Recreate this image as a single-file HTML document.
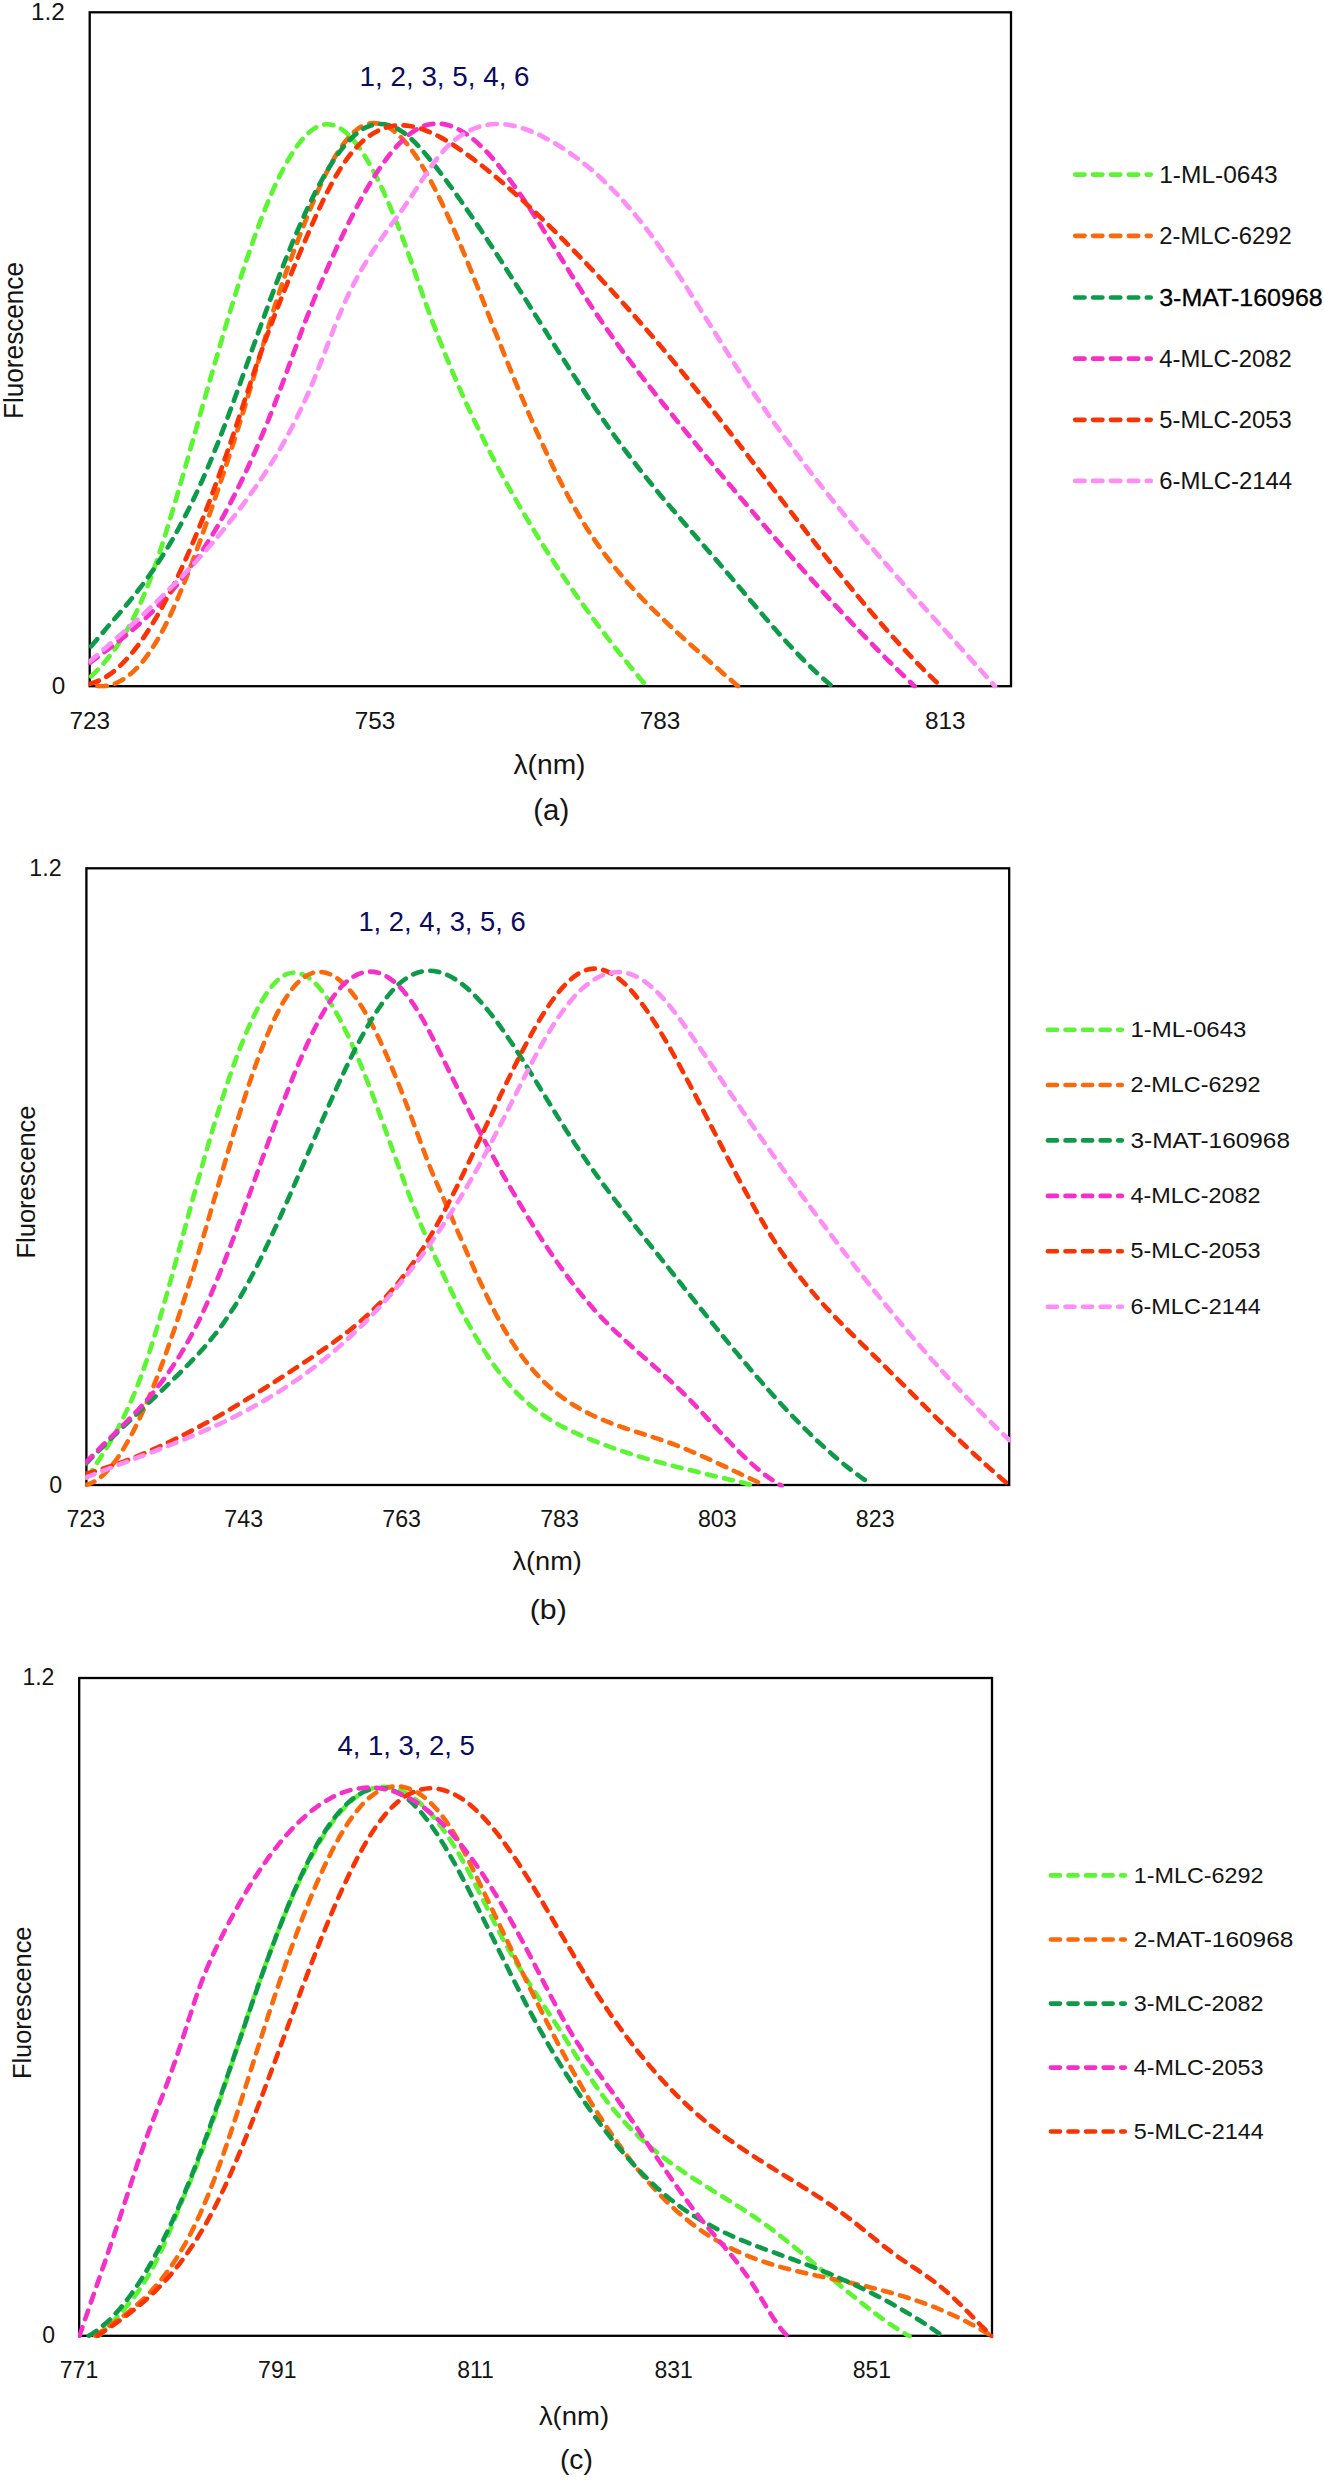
<!DOCTYPE html>
<html lang="en"><head><meta charset="utf-8"><title>Fluorescence spectra</title>
<style>
html,body{margin:0;padding:0;background:#fff;}
svg{display:block;font-family:'Liberation Sans', 'DejaVu Sans', sans-serif;}
</style></head><body>
<svg width="1324" height="2480" viewBox="0 0 1324 2480">
<rect width="1324" height="2480" fill="#fff"/>
<clipPath id="clipA"><rect x="88.5" y="9.9" width="923.7" height="678.7"/></clipPath>
<rect x="89.7" y="12.3" width="921.3" height="673.9" fill="none" stroke="#000" stroke-width="2.3"/>
<g clip-path="url(#clipA)" fill="none" stroke-width="4.7" stroke-linecap="round" stroke-linejoin="round" stroke-dasharray="9.3 8.6">
<path stroke="#5CF531" d="M91.2,676.3C93.7,674.0 96.1,671.6 98.5,669.0C100.8,666.6 103.1,664.0 105.4,661.3C107.5,658.8 109.7,656.1 111.9,653.3C113.9,650.6 115.9,647.8 117.9,644.8C119.7,642.1 121.6,639.1 123.5,636.1C125.2,633.2 126.9,630.2 128.7,627.1C130.3,624.2 131.9,621.1 133.5,617.9C135.0,615.0 136.5,611.9 138.0,608.6C139.4,605.6 140.8,602.5 142.2,599.2C143.5,596.1 144.8,593.0 146.2,589.7C147.4,586.6 148.6,583.4 149.9,580.1C151.1,577.0 152.2,573.8 153.4,570.5C154.5,567.3 155.6,564.1 156.8,560.8C157.8,557.7 158.9,554.5 160.0,551.2C161.0,548.0 162.1,544.8 163.1,541.6C164.1,538.4 165.1,535.2 166.2,531.9C167.1,528.7 168.1,525.5 169.1,522.2C170.1,519.1 171.1,515.8 172.0,512.6C173.0,509.4 174.0,506.2 174.9,502.9C175.9,499.7 176.8,496.5 177.7,493.3C178.7,490.1 179.6,486.9 180.5,483.6C181.5,480.4 182.4,477.2 183.3,474.0C184.2,470.8 185.1,467.6 186.1,464.4C187.0,461.1 187.9,457.9 188.8,454.7C189.7,451.5 190.6,448.3 191.5,445.1C192.4,441.9 193.4,438.7 194.3,435.5C195.2,432.3 196.1,429.0 197.0,425.8C197.9,422.6 198.8,419.4 199.7,416.2C200.6,413.0 201.5,409.8 202.4,406.6C203.3,403.4 204.3,400.2 205.2,397.0C206.1,393.8 207.0,390.6 207.9,387.4C208.8,384.2 209.7,381.0 210.6,377.8C211.6,374.6 212.5,371.4 213.4,368.2C214.3,365.0 215.3,361.8 216.2,358.6C217.1,355.4 218.0,352.2 219.0,349.1C219.9,345.9 220.8,342.7 221.8,339.5C222.7,336.3 223.6,333.1 224.6,330.0C225.5,326.8 226.5,323.6 227.4,320.4C228.4,317.2 229.4,314.1 230.3,310.9C231.3,307.7 232.3,304.6 233.2,301.4C234.2,298.2 235.2,295.1 236.2,291.9C237.2,288.7 238.2,285.6 239.2,282.5C240.2,279.3 241.2,276.1 242.2,273.0C243.3,269.9 244.3,266.7 245.3,263.6C246.4,260.5 247.4,257.3 248.5,254.2C249.6,251.1 250.6,248.0 251.7,244.9C252.8,241.8 253.9,238.7 255.0,235.6C256.2,232.5 257.3,229.4 258.4,226.3C259.6,223.2 260.7,220.2 261.9,217.1C263.1,214.0 264.3,211.0 265.5,208.0C266.8,204.9 268.0,201.9 269.2,198.9C270.5,195.9 271.8,192.9 273.1,189.9C274.5,186.9 275.8,183.9 277.2,181.1C278.6,178.1 280.0,175.1 281.5,172.3C283.0,169.4 284.5,166.5 286.0,163.8C287.6,160.9 289.2,158.1 290.8,155.5C292.6,152.6 294.3,149.9 296.0,147.5C297.9,144.7 299.9,142.2 301.8,139.9C303.9,137.4 306.1,135.1 308.2,133.2C310.7,130.9 313.1,129.1 315.6,127.7C318.5,126.0 321.4,124.9 324.3,124.5C327.6,124.0 330.8,124.3 334.1,125.4C337.3,126.5 340.5,128.2 343.6,130.7C346.3,132.7 348.9,135.2 351.6,138.1C353.8,140.6 356.0,143.3 358.3,146.4C360.3,149.1 362.2,152.0 364.2,155.1C366.0,157.9 367.8,160.9 369.5,164.0C371.2,166.9 372.8,170.0 374.5,173.1C376.0,176.1 377.6,179.2 379.1,182.3C380.6,185.3 382.0,188.4 383.5,191.6C384.9,194.6 386.2,197.7 387.6,200.9C389.0,204.0 390.3,207.1 391.6,210.3C392.9,213.4 394.2,216.5 395.5,219.7C396.7,222.8 398.0,225.9 399.2,229.1C400.4,232.2 401.6,235.4 402.8,238.6C404.0,241.7 405.2,244.9 406.4,248.1C407.5,251.2 408.6,254.4 409.8,257.6C410.9,260.8 412.0,264.0 413.1,267.2C414.2,270.3 415.3,273.5 416.4,276.7C417.5,279.8 418.6,283.0 419.7,286.1C420.8,289.3 421.9,292.4 422.9,295.5C424.1,298.6 425.2,301.7 426.3,304.8C427.4,307.9 428.5,311.0 429.7,314.1C430.8,317.2 432.0,320.3 433.1,323.4C434.3,326.5 435.5,329.6 436.7,332.6C437.9,335.8 439.1,338.8 440.3,341.9C441.5,345.0 442.7,348.0 443.9,351.1C445.2,354.2 446.4,357.2 447.7,360.3C448.9,363.3 450.2,366.4 451.5,369.4C452.7,372.5 454.0,375.5 455.3,378.5C456.6,381.6 458.0,384.6 459.3,387.6C460.6,390.7 462.0,393.7 463.3,396.7C464.7,399.7 466.0,402.7 467.4,405.7C468.8,408.7 470.2,411.7 471.6,414.7C473.0,417.7 474.4,420.7 475.8,423.6C477.3,426.6 478.7,429.6 480.1,432.5C481.6,435.5 483.1,438.5 484.5,441.4C486.0,444.4 487.5,447.4 489.0,450.3C490.5,453.2 492.1,456.2 493.6,459.1C495.1,462.0 496.7,465.0 498.2,467.9C499.8,470.8 501.3,473.7 502.9,476.6C504.5,479.5 506.1,482.4 507.7,485.3C509.3,488.2 510.9,491.1 512.6,493.9C514.2,496.9 515.8,499.7 517.5,502.6C519.1,505.5 520.8,508.3 522.5,511.2C524.1,514.0 525.8,516.9 527.5,519.7C529.2,522.6 530.9,525.4 532.6,528.2C534.4,531.1 536.1,533.9 537.8,536.7C539.6,539.6 541.3,542.4 543.1,545.2C544.8,548.0 546.6,550.8 548.4,553.5C550.2,556.4 552.0,559.1 553.8,561.9C555.6,564.7 557.4,567.5 559.2,570.2C561.1,573.0 562.9,575.7 564.8,578.5C566.6,581.2 568.5,584.0 570.4,586.7C572.2,589.4 574.1,592.1 576.0,594.8C577.9,597.6 579.8,600.3 581.7,603.0C583.7,605.7 585.6,608.4 587.6,611.0C589.5,613.7 591.5,616.4 593.4,619.1C595.4,621.7 597.4,624.4 599.4,627.0C601.4,629.7 603.4,632.3 605.4,635.0C607.4,637.6 609.4,640.2 611.4,642.8C613.5,645.5 615.5,648.1 617.6,650.7C619.6,653.3 621.7,655.9 623.8,658.4C625.9,661.0 628.0,663.6 630.0,666.2C632.1,668.8 634.3,671.3 636.4,673.9C638.5,676.4 640.6,679.0 642.7,681.5C644.1,683.1 645.4,684.7 646.8,686.3"/>
<path stroke="#FA6A0A" d="M97.5,686.2C100.8,686.5 104.1,686.4 107.5,685.7C110.7,685.1 114.0,684.1 117.3,682.6C120.3,681.2 123.4,679.4 126.4,677.2C129.1,675.3 131.8,673.0 134.5,670.4C136.9,668.1 139.3,665.5 141.7,662.7C143.8,660.1 146.0,657.3 148.1,654.3C150.1,651.6 152.0,648.7 153.9,645.6C155.7,642.8 157.5,639.8 159.3,636.7C160.9,633.8 162.5,630.8 164.2,627.6C165.7,624.6 167.2,621.5 168.8,618.4C170.2,615.4 171.7,612.3 173.1,609.1C174.5,606.0 175.9,602.9 177.2,599.7C178.5,596.7 179.9,593.5 181.2,590.3C182.4,587.2 183.7,584.1 185.0,580.9C186.2,577.8 187.5,574.7 188.7,571.5C189.9,568.4 191.1,565.2 192.3,562.0C193.5,558.9 194.7,555.8 195.8,552.6C197.0,549.4 198.1,546.3 199.3,543.1C200.4,540.0 201.6,536.8 202.7,533.6C203.8,530.5 204.9,527.3 206.1,524.1C207.2,521.0 208.3,517.8 209.4,514.7C210.5,511.5 211.6,508.4 212.7,505.2C213.8,502.0 214.8,498.9 215.9,495.7C217.0,492.5 218.1,489.3 219.2,486.2C220.2,483.0 221.3,479.8 222.4,476.6C223.4,473.5 224.5,470.3 225.5,467.1C226.6,463.9 227.6,460.8 228.7,457.5C229.7,454.4 230.7,451.2 231.8,448.0C232.8,444.8 233.8,441.6 234.9,438.4C235.9,435.2 236.9,432.0 237.9,428.8C238.9,425.7 239.9,422.5 240.9,419.2C241.9,416.1 242.9,412.9 243.9,409.6C244.9,406.4 245.8,403.2 246.8,400.0C247.8,396.8 248.8,393.6 249.7,390.4C250.7,387.2 251.7,384.0 252.6,380.8C253.6,377.6 254.5,374.3 255.5,371.1C256.4,367.9 257.3,364.7 258.3,361.5C259.2,358.3 260.2,355.1 261.1,351.9C262.0,348.7 263.0,345.5 263.9,342.3C264.8,339.1 265.8,335.9 266.7,332.8C267.7,329.6 268.6,326.4 269.6,323.3C270.5,320.1 271.5,316.9 272.5,313.8C273.4,310.6 274.4,307.4 275.4,304.3C276.4,301.2 277.4,298.0 278.4,294.9C279.5,291.8 280.5,288.7 281.5,285.6C282.6,282.4 283.6,279.3 284.7,276.3C285.8,273.1 286.9,270.0 288.0,267.0C289.1,263.8 290.3,260.7 291.4,257.7C292.5,254.6 293.7,251.5 294.8,248.4C296.0,245.3 297.2,242.2 298.4,239.1C299.6,236.0 300.7,232.9 301.9,229.9C303.1,226.8 304.4,223.7 305.6,220.6C306.8,217.5 308.0,214.5 309.2,211.4C310.5,208.3 311.7,205.3 313.0,202.3C314.3,199.2 315.6,196.2 316.9,193.3C318.2,190.2 319.5,187.2 320.9,184.3C322.3,181.3 323.6,178.4 325.0,175.5C326.5,172.5 328.0,169.6 329.4,166.9C331.0,163.9 332.5,161.1 334.1,158.4C335.8,155.5 337.5,152.8 339.1,150.2C340.9,147.4 342.8,144.8 344.6,142.5C346.6,139.8 348.6,137.4 350.6,135.3C352.9,132.9 355.2,130.8 357.5,129.1C360.2,127.1 362.9,125.7 365.6,124.7C368.7,123.5 371.8,123.0 375.0,123.2C378.3,123.3 381.6,124.1 385.0,125.6C388.0,126.9 391.1,128.8 394.1,131.2C396.8,133.2 399.4,135.6 402.0,138.4C404.3,140.8 406.6,143.5 408.9,146.4C411.0,149.0 413.0,151.9 415.1,154.9C417.0,157.6 418.9,160.5 420.8,163.6C422.5,166.4 424.3,169.3 426.0,172.4C427.7,175.3 429.3,178.3 431.0,181.4C432.5,184.3 434.1,187.4 435.7,190.5C437.2,193.5 438.7,196.5 440.2,199.6C441.7,202.6 443.1,205.7 444.6,208.8C446.0,211.8 447.4,214.9 448.8,218.0C450.1,221.0 451.5,224.1 452.9,227.3C454.2,230.3 455.6,233.4 456.9,236.5C458.2,239.6 459.5,242.7 460.8,245.8C462.1,248.9 463.4,252.0 464.7,255.1C466.0,258.2 467.2,261.3 468.5,264.4C469.8,267.5 471.0,270.6 472.3,273.7C473.5,276.8 474.8,279.9 476.0,283.1C477.3,286.2 478.5,289.3 479.7,292.4C481.0,295.5 482.2,298.6 483.4,301.7C484.6,304.8 485.9,307.9 487.1,311.0C488.3,314.1 489.5,317.2 490.8,320.3C492.0,323.4 493.2,326.5 494.4,329.6C495.6,332.7 496.9,335.8 498.1,338.9C499.3,342.0 500.6,345.1 501.8,348.2C503.0,351.3 504.3,354.3 505.5,357.4C506.7,360.5 508.0,363.6 509.2,366.6C510.5,369.7 511.7,372.8 513.0,375.9C514.2,379.0 515.5,382.0 516.8,385.1C518.0,388.2 519.3,391.2 520.6,394.3C521.9,397.3 523.2,400.4 524.5,403.4C525.8,406.5 527.1,409.5 528.4,412.6C529.7,415.6 531.0,418.7 532.3,421.7C533.7,424.7 535.0,427.8 536.3,430.8C537.7,433.8 539.1,436.8 540.4,439.8C541.8,442.8 543.2,445.8 544.6,448.8C546.0,451.8 547.4,454.8 548.8,457.8C550.2,460.8 551.6,463.8 553.0,466.7C554.5,469.7 556.0,472.7 557.4,475.6C558.9,478.6 560.4,481.5 561.9,484.4C563.4,487.4 564.9,490.3 566.5,493.1C568.0,496.1 569.6,499.0 571.2,501.8C572.8,504.7 574.4,507.6 576.0,510.3C577.7,513.2 579.4,516.1 581.0,518.8C582.8,521.7 584.5,524.5 586.2,527.2C588.0,530.0 589.8,532.8 591.6,535.4C593.4,538.2 595.2,540.9 597.1,543.6C599.0,546.3 600.9,549.0 602.8,551.6C604.7,554.3 606.7,556.9 608.7,559.5C610.7,562.2 612.7,564.7 614.7,567.3C616.8,569.9 618.9,572.4 621.0,574.9C623.1,577.4 625.3,579.9 627.4,582.4C629.6,584.9 631.8,587.3 634.0,589.7C636.3,592.2 638.5,594.6 640.8,597.0C643.1,599.4 645.4,601.8 647.7,604.1C650.0,606.5 652.3,608.8 654.7,611.1C657.1,613.4 659.4,615.7 661.8,618.0C664.2,620.3 666.6,622.6 669.0,624.9C671.4,627.2 673.9,629.4 676.3,631.7C678.7,633.9 681.2,636.2 683.6,638.4C686.1,640.6 688.6,642.9 691.0,645.1C693.5,647.3 696.0,649.5 698.5,651.7C701.0,653.9 703.5,656.1 706.0,658.3C708.5,660.5 711.0,662.7 713.5,664.9C716.0,667.1 718.5,669.3 721.0,671.5C723.5,673.7 726.0,675.8 728.6,678.0C731.1,680.2 733.6,682.4 736.1,684.6C736.7,685.1 737.4,685.7 738.0,686.2"/>
<path stroke="#0D9B49" d="M91.2,646.3C93.4,643.7 95.5,641.1 97.6,638.6C99.8,636.1 101.9,633.6 104.1,631.1C106.2,628.5 108.4,626.0 110.6,623.5C112.8,621.0 114.9,618.5 117.1,615.9C119.3,613.4 121.5,610.8 123.6,608.2C125.8,605.7 127.9,603.1 130.1,600.5C132.2,597.9 134.3,595.3 136.4,592.6C138.5,590.0 140.5,587.3 142.6,584.6C144.6,581.9 146.6,579.2 148.6,576.4C150.6,573.7 152.5,571.0 154.5,568.1C156.3,565.4 158.2,562.5 160.1,559.6C161.9,556.8 163.7,554.0 165.5,551.0C167.3,548.2 169.0,545.3 170.8,542.3C172.5,539.4 174.2,536.5 175.8,533.5C177.5,530.5 179.1,527.6 180.7,524.5C182.3,521.6 183.9,518.6 185.4,515.5C187.0,512.6 188.5,509.5 190.0,506.5C191.5,503.5 193.0,500.4 194.4,497.3C195.9,494.3 197.3,491.2 198.7,488.1C200.1,485.1 201.5,482.0 202.9,478.9C204.2,475.8 205.6,472.7 206.9,469.6C208.3,466.5 209.6,463.4 210.9,460.2C212.2,457.2 213.5,454.0 214.7,450.9C216.0,447.8 217.2,444.6 218.5,441.5C219.7,438.4 220.9,435.2 222.1,432.1C223.3,428.9 224.5,425.8 225.7,422.6C226.9,419.5 228.1,416.4 229.2,413.2C230.4,410.1 231.6,406.9 232.7,403.8C233.9,400.6 235.0,397.5 236.2,394.3C237.3,391.2 238.4,388.0 239.6,384.9C240.7,381.7 241.8,378.6 242.9,375.4C244.1,372.3 245.2,369.2 246.3,366.0C247.4,362.9 248.6,359.7 249.7,356.6C250.8,353.4 251.9,350.3 253.0,347.2C254.2,344.0 255.3,340.9 256.4,337.8C257.5,334.6 258.6,331.5 259.8,328.4C260.9,325.2 262.0,322.1 263.2,319.0C264.3,315.9 265.4,312.8 266.6,309.6C267.7,306.5 268.9,303.4 270.0,300.3C271.2,297.2 272.3,294.1 273.5,291.0C274.7,287.9 275.8,284.8 277.0,281.7C278.2,278.6 279.4,275.5 280.6,272.4C281.8,269.3 283.0,266.2 284.2,263.2C285.4,260.1 286.6,257.0 287.8,254.0C289.1,250.9 290.3,247.8 291.6,244.8C292.8,241.7 294.1,238.7 295.4,235.7C296.7,232.6 298.0,229.6 299.3,226.6C300.6,223.5 301.9,220.5 303.3,217.6C304.6,214.5 306.0,211.6 307.4,208.6C308.8,205.6 310.2,202.7 311.6,199.8C313.1,196.8 314.5,193.8 316.0,191.0C317.5,188.0 319.0,185.1 320.6,182.3C322.2,179.4 323.7,176.6 325.3,173.8C327.0,170.9 328.7,168.1 330.3,165.5C332.1,162.7 333.9,159.9 335.6,157.4C337.5,154.6 339.4,152.0 341.3,149.6C343.4,147.0 345.4,144.5 347.4,142.3C349.7,139.8 351.9,137.5 354.1,135.6C356.6,133.3 359.1,131.4 361.6,129.8C364.4,128.0 367.2,126.7 370.0,125.7C373.2,124.6 376.3,124.1 379.5,124.0C382.8,123.9 386.2,124.4 389.5,125.4C392.7,126.4 395.9,127.8 399.1,129.7C402.0,131.4 404.8,133.4 407.7,135.8C410.3,137.9 412.8,140.3 415.4,142.9C417.7,145.3 420.1,147.8 422.4,150.5C424.6,153.0 426.8,155.6 429.0,158.3C431.1,160.9 433.2,163.6 435.3,166.3C437.4,168.9 439.4,171.6 441.5,174.3C443.5,176.9 445.5,179.6 447.5,182.3C449.5,185.0 451.5,187.7 453.5,190.5C455.4,193.2 457.4,195.9 459.3,198.7C461.3,201.4 463.2,204.1 465.1,206.9C467.0,209.6 468.9,212.4 470.8,215.2C472.7,217.9 474.6,220.7 476.5,223.5C478.3,226.3 480.2,229.0 482.0,231.8C483.9,234.6 485.7,237.4 487.6,240.2C489.4,243.0 491.3,245.8 493.1,248.6C494.9,251.4 496.7,254.2 498.5,257.0C500.4,259.8 502.2,262.6 504.0,265.5C505.8,268.3 507.6,271.1 509.4,273.9C511.2,276.7 513.0,279.5 514.7,282.4C516.5,285.2 518.3,288.0 520.1,290.8C521.9,293.6 523.7,296.5 525.4,299.3C527.2,302.1 529.0,304.9 530.8,307.7C532.5,310.6 534.3,313.4 536.1,316.2C537.9,319.0 539.6,321.9 541.4,324.7C543.2,327.5 545.0,330.3 546.8,333.1C548.5,336.0 550.3,338.8 552.1,341.6C553.9,344.4 555.6,347.2 557.4,350.0C559.2,352.8 561.0,355.6 562.8,358.4C564.6,361.2 566.4,364.0 568.2,366.8C570.0,369.6 571.8,372.4 573.6,375.2C575.4,378.0 577.2,380.8 579.0,383.6C580.8,386.4 582.7,389.1 584.5,391.9C586.3,394.7 588.1,397.5 590.0,400.2C591.8,403.0 593.7,405.7 595.5,408.5C597.4,411.2 599.3,414.0 601.1,416.7C603.0,419.5 604.9,422.2 606.8,424.9C608.7,427.6 610.6,430.3 612.5,433.0C614.4,435.7 616.4,438.4 618.3,441.1C620.3,443.8 622.2,446.5 624.2,449.1C626.2,451.8 628.1,454.4 630.1,457.0C632.1,459.7 634.2,462.3 636.2,464.9C638.2,467.5 640.3,470.2 642.3,472.7C644.4,475.3 646.4,477.9 648.5,480.5C650.6,483.1 652.7,485.7 654.8,488.2C656.9,490.8 659.0,493.4 661.1,495.9C663.3,498.5 665.4,501.0 667.5,503.5C669.7,506.1 671.8,508.6 674.0,511.1C676.1,513.7 678.3,516.2 680.5,518.7C682.6,521.2 684.8,523.7 687.0,526.2C689.2,528.8 691.3,531.3 693.5,533.8C695.7,536.3 697.9,538.8 700.1,541.3C702.3,543.9 704.5,546.4 706.6,548.9C708.8,551.4 711.0,553.9 713.2,556.5C715.4,559.0 717.6,561.5 719.7,564.1C721.9,566.6 724.1,569.1 726.2,571.7C728.4,574.2 730.6,576.8 732.7,579.3C734.9,581.9 737.0,584.4 739.2,587.0C741.3,589.5 743.5,592.1 745.6,594.7C747.7,597.2 749.9,599.8 752.0,602.3C754.2,604.8 756.3,607.4 758.5,609.9C760.6,612.5 762.8,615.0 765.0,617.5C767.1,620.0 769.3,622.5 771.5,625.0C773.7,627.6 775.8,630.0 778.0,632.5C780.2,635.0 782.4,637.5 784.7,639.9C786.9,642.4 789.1,644.8 791.4,647.2C793.6,649.7 795.9,652.1 798.2,654.5C800.5,656.9 802.8,659.2 805.1,661.5C807.5,663.9 809.8,666.2 812.2,668.5C814.6,670.8 817.0,673.0 819.4,675.2C821.9,677.4 824.3,679.6 826.8,681.7C828.6,683.3 830.4,684.8 832.2,686.2"/>
<path stroke="#F72FC9" d="M90.0,662.5C92.7,660.6 95.4,658.6 98.1,656.6C100.8,654.7 103.5,652.7 106.2,650.7C108.9,648.7 111.6,646.7 114.2,644.6C116.9,642.6 119.5,640.5 122.2,638.4C124.8,636.3 127.4,634.2 130.0,632.0C132.5,629.9 135.1,627.7 137.6,625.4C140.1,623.2 142.6,620.9 145.1,618.6C147.6,616.3 150.0,614.0 152.4,611.6C154.8,609.3 157.2,606.9 159.6,604.4C161.9,602.0 164.2,599.5 166.5,597.0C168.7,594.5 171.0,592.0 173.2,589.3C175.4,586.8 177.5,584.2 179.7,581.5C181.8,578.9 183.9,576.3 186.0,573.5C188.0,570.9 190.1,568.2 192.1,565.4C194.0,562.7 196.0,559.9 198.0,557.1C199.9,554.4 201.8,551.5 203.6,548.7C205.5,545.9 207.3,543.0 209.1,540.1C210.9,537.3 212.7,534.4 214.5,531.4C216.2,528.6 217.9,525.6 219.6,522.7C221.2,519.8 222.9,516.8 224.6,513.8C226.2,510.9 227.8,507.9 229.4,504.9C230.9,501.9 232.5,498.9 234.1,495.9C235.6,492.9 237.1,489.9 238.6,486.8C240.1,483.8 241.6,480.8 243.0,477.7C244.5,474.7 245.9,471.6 247.4,468.5C248.8,465.5 250.2,462.5 251.6,459.3C252.9,456.3 254.3,453.2 255.7,450.1C257.0,447.0 258.4,443.9 259.7,440.8C261.0,437.7 262.3,434.6 263.6,431.5C264.9,428.4 266.2,425.3 267.5,422.2C268.7,419.1 270.0,415.9 271.2,412.8C272.5,409.7 273.7,406.5 274.9,403.4C276.1,400.3 277.3,397.1 278.5,394.0C279.7,390.8 280.9,387.7 282.1,384.5C283.3,381.4 284.4,378.2 285.6,375.1C286.7,371.9 287.9,368.8 289.0,365.6C290.2,362.5 291.3,359.4 292.4,356.2C293.6,353.1 294.7,350.0 295.9,346.8C297.0,343.7 298.1,340.6 299.3,337.5C300.4,334.4 301.6,331.3 302.7,328.2C303.9,325.1 305.1,322.0 306.3,318.9C307.5,315.8 308.7,312.8 309.9,309.8C311.1,306.7 312.3,303.6 313.6,300.6C314.8,297.5 316.1,294.5 317.4,291.5C318.7,288.4 320.0,285.4 321.3,282.4C322.6,279.3 323.9,276.3 325.2,273.3C326.6,270.2 327.9,267.2 329.2,264.2C330.6,261.2 332.0,258.2 333.3,255.2C334.7,252.1 336.1,249.1 337.5,246.2C338.9,243.1 340.3,240.2 341.7,237.2C343.1,234.2 344.6,231.2 346.0,228.3C347.4,225.3 348.9,222.3 350.4,219.4C351.9,216.5 353.4,213.5 354.9,210.7C356.4,207.7 358.0,204.8 359.5,202.0C361.1,199.0 362.7,196.2 364.3,193.4C365.9,190.5 367.6,187.6 369.2,184.9C370.9,182.0 372.6,179.2 374.3,176.5C376.1,173.7 377.9,171.0 379.7,168.3C381.5,165.6 383.4,162.9 385.3,160.4C387.2,157.7 389.2,155.1 391.2,152.7C393.3,150.1 395.4,147.7 397.5,145.4C399.8,143.0 402.0,140.7 404.3,138.7C406.8,136.4 409.2,134.4 411.7,132.6C414.4,130.7 417.1,129.1 419.8,127.7C422.8,126.3 425.8,125.2 428.8,124.5C432.1,123.8 435.3,123.5 438.6,123.6C441.9,123.8 445.2,124.3 448.6,125.3C451.8,126.3 455.0,127.6 458.2,129.2C461.1,130.7 464.1,132.5 467.1,134.6C469.8,136.5 472.5,138.6 475.3,141.0C477.8,143.1 480.3,145.5 482.9,148.0C485.2,150.3 487.6,152.8 490.0,155.4C492.2,157.9 494.5,160.5 496.7,163.1C498.8,165.7 501.0,168.3 503.1,171.1C505.2,173.7 507.2,176.4 509.3,179.2C511.3,181.8 513.3,184.6 515.3,187.4C517.2,190.1 519.1,192.8 521.1,195.6C523.0,198.4 524.9,201.2 526.7,204.0C528.6,206.8 530.4,209.6 532.3,212.4C534.1,215.2 535.9,218.0 537.8,220.9C539.6,223.7 541.4,226.5 543.1,229.4C544.9,232.2 546.7,235.0 548.5,237.9C550.3,240.7 552.0,243.5 553.8,246.4C555.5,249.2 557.3,252.1 559.1,254.9C560.8,257.7 562.6,260.6 564.3,263.4C566.1,266.2 567.8,269.1 569.6,271.9C571.3,274.7 573.1,277.6 574.9,280.4C576.6,283.2 578.4,286.0 580.2,288.8C581.9,291.6 583.7,294.4 585.5,297.2C587.3,300.0 589.1,302.8 590.9,305.5C592.7,308.3 594.6,311.1 596.4,313.8C598.2,316.6 600.1,319.3 602.0,322.0C603.8,324.8 605.7,327.5 607.6,330.2C609.5,332.9 611.4,335.6 613.3,338.3C615.3,341.0 617.2,343.7 619.1,346.4C621.1,349.1 623.0,351.7 625.0,354.4C627.0,357.1 629.0,359.7 631.0,362.4C633.0,365.0 635.0,367.7 637.0,370.3C639.0,372.9 641.0,375.6 643.0,378.2C645.1,380.8 647.1,383.4 649.1,386.0C651.2,388.7 653.3,391.3 655.3,393.9C657.4,396.5 659.5,399.1 661.5,401.7C663.6,404.3 665.7,406.9 667.8,409.4C669.9,412.0 672.0,414.6 674.1,417.2C676.2,419.8 678.2,422.4 680.3,425.0C682.5,427.5 684.6,430.1 686.7,432.7C688.8,435.3 690.9,437.9 693.0,440.4C695.1,443.0 697.2,445.6 699.3,448.2C701.4,450.7 703.5,453.3 705.7,455.9C707.8,458.5 709.9,461.0 712.0,463.6C714.1,466.2 716.3,468.7 718.4,471.3C720.5,473.8 722.7,476.4 724.8,479.0C726.9,481.5 729.1,484.1 731.2,486.6C733.3,489.2 735.5,491.7 737.6,494.3C739.8,496.8 741.9,499.4 744.1,501.9C746.2,504.4 748.4,507.0 750.5,509.5C752.7,512.0 754.8,514.6 757.0,517.1C759.2,519.6 761.3,522.2 763.5,524.7C765.7,527.2 767.8,529.7 770.0,532.3C772.2,534.8 774.4,537.3 776.5,539.8C778.7,542.3 780.9,544.8 783.1,547.3C785.3,549.8 787.5,552.3 789.7,554.8C791.9,557.3 794.1,559.8 796.3,562.3C798.5,564.8 800.7,567.3 802.9,569.8C805.1,572.2 807.4,574.7 809.6,577.2C811.8,579.7 814.0,582.1 816.3,584.6C818.5,587.1 820.7,589.5 823.0,592.0C825.2,594.4 827.5,596.9 829.7,599.3C832.0,601.8 834.2,604.2 836.5,606.7C838.8,609.1 841.0,611.5 843.3,614.0C845.6,616.4 847.9,618.8 850.1,621.2C852.4,623.7 854.7,626.1 857.0,628.5C859.3,630.9 861.6,633.3 863.9,635.7C866.2,638.1 868.5,640.5 870.8,642.8C873.2,645.2 875.5,647.6 877.8,650.0C880.1,652.4 882.5,654.7 884.8,657.1C887.2,659.4 889.5,661.8 891.9,664.1C894.2,666.5 896.6,668.8 898.9,671.1C901.3,673.5 903.7,675.8 906.1,678.1C908.5,680.4 910.9,682.7 913.2,685.0C913.7,685.4 914.1,685.8 914.5,686.2"/>
<path stroke="#FA3305" d="M90.0,683.8C93.2,683.0 96.5,681.8 99.7,680.3C102.7,678.9 105.8,677.1 108.8,675.0C111.5,673.2 114.3,671.0 117.0,668.6C119.5,666.4 122.0,664.0 124.5,661.4C126.8,659.0 129.1,656.4 131.4,653.6C133.6,651.1 135.7,648.4 137.9,645.5C139.9,642.8 141.9,640.1 143.9,637.1C145.7,634.4 147.6,631.5 149.5,628.6C151.3,625.8 153.1,622.8 154.9,619.8C156.6,617.0 158.3,614.0 160.0,611.0C161.6,608.1 163.3,605.1 164.9,602.0C166.5,599.1 168.1,596.1 169.6,593.0C171.1,590.1 172.7,587.0 174.2,583.9C175.6,580.9 177.1,577.9 178.6,574.8C180.0,571.8 181.4,568.7 182.8,565.6C184.2,562.5 185.6,559.4 187.0,556.3C188.3,553.3 189.7,550.2 191.0,547.0C192.3,544.0 193.6,540.9 195.0,537.7C196.2,534.6 197.5,531.5 198.8,528.4C200.1,525.3 201.3,522.1 202.6,519.0C203.8,515.9 205.0,512.7 206.2,509.6C207.5,506.5 208.7,503.3 209.9,500.2C211.0,497.0 212.2,493.9 213.4,490.7C214.6,487.6 215.7,484.4 216.9,481.2C218.0,478.1 219.2,475.0 220.3,471.8C221.4,468.6 222.6,465.5 223.7,462.3C224.8,459.1 225.9,456.0 227.0,452.8C228.1,449.6 229.2,446.5 230.3,443.3C231.4,440.1 232.5,436.9 233.6,433.7C234.6,430.6 235.7,427.4 236.8,424.2C237.8,421.1 238.9,417.9 239.9,414.7C241.0,411.5 242.0,408.4 243.1,405.2C244.1,402.0 245.2,398.8 246.2,395.7C247.3,392.5 248.3,389.4 249.4,386.2C250.4,383.0 251.5,379.9 252.5,376.8C253.6,373.6 254.6,370.5 255.7,367.4C256.8,364.2 257.9,361.1 259.0,358.0C260.1,354.9 261.2,351.8 262.3,348.7C263.4,345.5 264.5,342.4 265.6,339.4C266.8,336.2 267.9,333.1 269.1,330.1C270.2,326.9 271.4,323.9 272.6,320.8C273.7,317.7 274.9,314.6 276.1,311.5C277.3,308.4 278.5,305.3 279.7,302.3C280.9,299.2 282.2,296.1 283.4,293.1C284.6,290.0 285.9,286.9 287.1,283.8C288.4,280.8 289.6,277.7 290.9,274.6C292.1,271.6 293.4,268.5 294.7,265.4C296.0,262.4 297.2,259.3 298.5,256.2C299.8,253.2 301.1,250.1 302.4,247.1C303.7,244.0 305.0,240.9 306.3,237.9C307.6,234.8 308.9,231.8 310.2,228.8C311.5,225.7 312.9,222.7 314.2,219.7C315.6,216.7 316.9,213.7 318.3,210.7C319.7,207.7 321.1,204.7 322.5,201.8C323.9,198.8 325.3,195.9 326.8,193.0C328.3,190.0 329.8,187.1 331.3,184.3C332.8,181.4 334.4,178.6 336.0,175.8C337.7,173.0 339.3,170.2 341.0,167.6C342.8,164.8 344.6,162.2 346.4,159.7C348.4,157.0 350.3,154.5 352.3,152.1C354.4,149.6 356.5,147.2 358.7,145.1C361.0,142.7 363.4,140.6 365.7,138.7C368.3,136.6 370.9,134.8 373.5,133.2C376.4,131.5 379.2,130.1 382.1,129.0C385.2,127.7 388.3,126.8 391.4,126.2C394.7,125.6 397.9,125.3 401.2,125.3C404.5,125.3 407.9,125.7 411.2,126.2C414.5,126.8 417.8,127.7 421.1,128.7C424.2,129.7 427.4,131.0 430.6,132.4C433.6,133.8 436.7,135.3 439.7,136.9C442.6,138.5 445.6,140.2 448.5,142.0C451.3,143.8 454.2,145.6 457.0,147.5C459.8,149.4 462.5,151.3 465.3,153.3C468.0,155.2 470.7,157.2 473.4,159.2C476.1,161.2 478.8,163.3 481.5,165.3C484.1,167.4 486.7,169.5 489.4,171.6C491.9,173.7 494.5,175.8 497.1,178.0C499.7,180.2 502.2,182.3 504.8,184.5C507.3,186.7 509.8,188.9 512.4,191.2C514.8,193.4 517.3,195.6 519.8,197.9C522.3,200.1 524.8,202.4 527.2,204.7C529.7,207.0 532.1,209.3 534.5,211.6C537.0,213.9 539.4,216.2 541.8,218.5C544.2,220.9 546.6,223.2 549.0,225.6C551.4,227.9 553.7,230.3 556.1,232.6C558.5,235.0 560.8,237.4 563.2,239.7C565.5,242.1 567.9,244.5 570.2,246.9C572.5,249.3 574.9,251.7 577.2,254.1C579.5,256.5 581.8,258.9 584.2,261.3C586.5,263.7 588.8,266.1 591.1,268.6C593.4,271.0 595.7,273.4 598.0,275.8C600.2,278.3 602.5,280.7 604.8,283.2C607.1,285.6 609.3,288.1 611.6,290.5C613.9,293.0 616.1,295.5 618.4,297.9C620.6,300.4 622.9,302.9 625.1,305.4C627.3,307.9 629.6,310.4 631.8,312.9C634.0,315.4 636.2,317.9 638.4,320.4C640.6,322.9 642.8,325.4 645.0,327.9C647.2,330.4 649.4,333.0 651.6,335.5C653.8,338.0 655.9,340.6 658.1,343.1C660.3,345.7 662.4,348.2 664.6,350.8C666.7,353.4 668.9,355.9 671.0,358.5C673.2,361.1 675.3,363.6 677.4,366.2C679.5,368.8 681.7,371.4 683.8,374.0C685.9,376.6 688.0,379.2 690.1,381.8C692.2,384.4 694.3,387.0 696.4,389.6C698.4,392.2 700.5,394.8 702.6,397.5C704.7,400.1 706.7,402.7 708.8,405.3C710.9,407.9 712.9,410.6 715.0,413.2C717.1,415.8 719.1,418.5 721.2,421.1C723.2,423.7 725.3,426.4 727.3,429.0C729.3,431.6 731.4,434.3 733.4,436.9C735.5,439.6 737.5,442.2 739.5,444.9C741.6,447.5 743.6,450.1 745.6,452.8C747.7,455.4 749.7,458.1 751.7,460.7C753.8,463.4 755.8,466.0 757.8,468.7C759.8,471.3 761.9,474.0 763.9,476.6C765.9,479.3 767.9,481.9 770.0,484.6C772.0,487.2 774.0,489.9 776.0,492.5C778.1,495.1 780.1,497.8 782.1,500.4C784.2,503.1 786.2,505.7 788.2,508.4C790.2,511.0 792.3,513.6 794.3,516.3C796.3,518.9 798.4,521.6 800.4,524.2C802.5,526.8 804.5,529.4 806.5,532.1C808.6,534.7 810.6,537.3 812.7,539.9C814.7,542.6 816.8,545.2 818.8,547.8C820.9,550.4 822.9,553.0 825.0,555.6C827.1,558.3 829.1,560.9 831.2,563.5C833.3,566.1 835.4,568.7 837.4,571.2C839.5,573.8 841.6,576.4 843.7,579.0C845.8,581.6 847.9,584.2 850.0,586.7C852.1,589.3 854.2,591.9 856.3,594.4C858.5,597.0 860.6,599.6 862.7,602.1C864.9,604.6 867.0,607.2 869.1,609.7C871.3,612.2 873.5,614.8 875.6,617.3C877.8,619.8 880.0,622.3 882.1,624.8C884.3,627.3 886.5,629.8 888.7,632.3C890.9,634.8 893.1,637.2 895.4,639.7C897.6,642.1 899.8,644.6 902.1,647.0C904.3,649.5 906.6,651.9 908.9,654.3C911.1,656.7 913.4,659.1 915.7,661.5C918.0,663.9 920.3,666.3 922.7,668.6C925.0,671.0 927.3,673.3 929.7,675.6C932.1,677.9 934.4,680.3 936.8,682.5C938.1,683.8 939.4,685.0 940.8,686.3"/>
<path stroke="#FC8EF6" d="M90.0,661.3C92.5,659.1 95.1,656.9 97.6,654.7C100.1,652.5 102.6,650.4 105.2,648.2C107.7,646.0 110.2,643.8 112.7,641.6C115.2,639.4 117.7,637.2 120.2,635.0C122.7,632.8 125.2,630.6 127.7,628.3C130.2,626.1 132.7,623.9 135.2,621.6C137.7,619.4 140.1,617.1 142.6,614.9C145.1,612.6 147.5,610.3 150.0,608.0C152.4,605.7 154.8,603.4 157.3,601.1C159.7,598.8 162.1,596.5 164.5,594.1C166.9,591.8 169.2,589.4 171.6,587.0C174.0,584.7 176.3,582.3 178.7,579.9C181.0,577.5 183.3,575.1 185.7,572.6C188.0,570.2 190.3,567.8 192.5,565.3C194.8,562.8 197.1,560.3 199.3,557.8C201.6,555.4 203.8,552.8 206.0,550.3C208.2,547.8 210.4,545.2 212.6,542.7C214.8,540.1 216.9,537.6 219.1,535.0C221.2,532.4 223.4,529.8 225.5,527.1C227.6,524.5 229.7,521.9 231.8,519.2C233.8,516.6 235.9,514.0 237.9,511.3C239.9,508.6 242.0,505.9 244.0,503.2C246.0,500.5 247.9,497.8 249.9,495.0C251.9,492.3 253.8,489.6 255.8,486.8C257.7,484.1 259.6,481.3 261.5,478.5C263.4,475.7 265.2,472.9 267.1,470.0C268.9,467.2 270.7,464.4 272.5,461.4C274.3,458.6 276.1,455.7 277.8,452.8C279.5,449.9 281.2,447.0 282.9,444.0C284.6,441.1 286.2,438.1 287.8,435.0C289.4,432.1 291.0,429.1 292.6,426.0C294.1,423.1 295.6,420.0 297.2,416.9C298.6,413.9 300.1,410.9 301.6,407.8C303.0,404.7 304.4,401.7 305.8,398.5C307.2,395.5 308.6,392.3 309.9,389.2C311.2,386.1 312.6,383.0 313.9,379.8C315.1,376.7 316.4,373.5 317.7,370.4C318.9,367.3 320.1,364.1 321.4,360.9C322.6,357.8 323.8,354.7 325.0,351.6C326.2,348.5 327.4,345.3 328.6,342.2C329.8,339.1 331.0,336.0 332.2,333.0C333.4,329.9 334.6,326.8 335.8,323.8C337.0,320.7 338.3,317.6 339.5,314.6C340.8,311.6 342.1,308.6 343.4,305.7C344.7,302.6 346.1,299.7 347.4,296.8C348.8,293.8 350.2,290.9 351.7,288.0C353.2,285.0 354.6,282.2 356.1,279.4C357.7,276.4 359.3,273.6 360.8,270.8C362.5,267.9 364.1,265.1 365.8,262.4C367.5,259.6 369.2,256.8 371.0,254.1C372.8,251.3 374.6,248.6 376.4,245.9C378.3,243.2 380.1,240.5 382.0,237.8C383.9,235.1 385.8,232.4 387.8,229.7C389.7,227.0 391.7,224.4 393.6,221.7C395.6,219.0 397.5,216.3 399.5,213.5C401.4,210.8 403.4,208.1 405.3,205.3C407.2,202.6 409.1,199.8 411.0,196.9C412.9,194.1 414.7,191.3 416.6,188.5C418.4,185.7 420.2,182.9 422.0,180.1C423.9,177.4 425.7,174.6 427.5,171.9C429.4,169.1 431.3,166.4 433.2,163.8C435.1,161.1 437.1,158.5 439.0,156.1C441.1,153.5 443.2,151.1 445.2,148.9C447.5,146.4 449.8,144.2 452.1,142.3C454.6,140.1 457.1,138.1 459.6,136.4C462.4,134.5 465.1,132.8 467.9,131.4C470.8,129.9 473.8,128.6 476.7,127.6C479.9,126.5 483.0,125.6 486.2,125.0C489.5,124.4 492.7,124.1 496.0,124.0C499.3,123.9 502.7,124.1 506.0,124.5C509.3,124.9 512.6,125.5 515.9,126.3C519.2,127.1 522.4,128.1 525.6,129.2C528.8,130.3 531.9,131.6 535.1,133.0C538.1,134.3 541.2,135.8 544.2,137.4C547.2,138.9 550.1,140.5 553.1,142.3C556.0,143.9 558.9,145.7 561.7,147.5C564.6,149.3 567.4,151.2 570.2,153.2C572.9,155.1 575.6,157.1 578.4,159.1C581.0,161.2 583.7,163.3 586.3,165.4C588.9,167.5 591.5,169.7 594.1,172.0C596.6,174.2 599.1,176.5 601.6,178.8C604.0,181.1 606.5,183.4 608.9,185.8C611.3,188.2 613.6,190.6 616.0,193.1C618.3,195.5 620.6,198.0 622.9,200.5C625.1,203.0 627.4,205.5 629.6,208.1C631.8,210.6 634.0,213.2 636.1,215.9C638.2,218.4 640.4,221.1 642.5,223.8C644.5,226.4 646.6,229.1 648.7,231.8C650.7,234.5 652.7,237.2 654.7,239.9C656.6,242.6 658.6,245.4 660.6,248.2C662.5,250.9 664.4,253.7 666.3,256.5C668.2,259.2 670.1,262.0 671.9,264.8C673.8,267.6 675.6,270.4 677.5,273.2C679.3,276.0 681.1,278.8 683.0,281.7C684.8,284.5 686.6,287.3 688.4,290.1C690.1,293.0 691.9,295.8 693.7,298.6C695.5,301.5 697.3,304.3 699.0,307.1C700.8,310.0 702.6,312.8 704.3,315.6C706.1,318.5 707.9,321.3 709.6,324.1C711.4,327.0 713.1,329.8 714.9,332.6C716.7,335.5 718.4,338.3 720.2,341.1C721.9,343.9 723.7,346.8 725.5,349.6C727.2,352.4 729.0,355.2 730.8,358.0C732.6,360.8 734.3,363.6 736.1,366.4C737.9,369.2 739.7,372.0 741.5,374.8C743.3,377.6 745.2,380.3 747.0,383.1C748.8,385.9 750.7,388.6 752.5,391.4C754.3,394.1 756.2,396.9 758.1,399.6C759.9,402.4 761.8,405.1 763.7,407.8C765.6,410.6 767.5,413.3 769.3,416.0C771.3,418.7 773.2,421.5 775.1,424.2C777.0,426.9 778.9,429.6 780.8,432.3C782.8,435.0 784.7,437.6 786.7,440.3C788.6,443.0 790.6,445.7 792.6,448.3C794.6,451.0 796.5,453.7 798.5,456.3C800.5,459.0 802.5,461.7 804.5,464.3C806.5,466.9 808.5,469.6 810.5,472.2C812.6,474.9 814.6,477.5 816.6,480.1C818.7,482.7 820.7,485.3 822.8,487.9C824.8,490.6 826.9,493.2 829.0,495.7C831.0,498.4 833.1,500.9 835.2,503.5C837.3,506.1 839.4,508.7 841.5,511.3C843.6,513.8 845.7,516.4 847.8,519.0C849.9,521.5 852.0,524.1 854.1,526.7C856.3,529.2 858.4,531.8 860.5,534.3C862.7,536.9 864.8,539.4 867.0,541.9C869.1,544.5 871.3,547.0 873.4,549.5C875.6,552.0 877.8,554.6 879.9,557.1C882.1,559.6 884.3,562.1 886.5,564.6C888.7,567.1 890.8,569.6 893.0,572.1C895.2,574.7 897.4,577.2 899.6,579.6C901.8,582.2 904.0,584.6 906.2,587.1C908.4,589.6 910.6,592.1 912.9,594.6C915.1,597.1 917.3,599.6 919.5,602.1C921.7,604.5 923.9,607.0 926.2,609.5C928.4,612.0 930.6,614.5 932.8,616.9C935.1,619.4 937.3,621.9 939.5,624.4C941.7,626.9 944.0,629.3 946.2,631.8C948.4,634.3 950.7,636.8 952.9,639.2C955.1,641.7 957.4,644.2 959.6,646.7C961.8,649.1 964.1,651.6 966.3,654.1C968.5,656.6 970.7,659.1 973.0,661.6C975.2,664.0 977.4,666.5 979.6,669.0C981.9,671.5 984.1,674.0 986.3,676.5C988.5,679.0 990.7,681.5 993.0,684.0C993.6,684.7 994.3,685.5 995.0,686.3"/>
</g>
<text x="64.8" y="20.0" font-size="24.3" text-anchor="end" fill="#141414">1.2</text>
<text x="65.3" y="694.4" font-size="24.3" text-anchor="end" fill="#141414">0</text>
<text x="89.7" y="729.3" font-size="24.3" text-anchor="middle" fill="#141414">723</text>
<text x="374.9" y="729.3" font-size="24.3" text-anchor="middle" fill="#141414">753</text>
<text x="660.1" y="729.3" font-size="24.3" text-anchor="middle" fill="#141414">783</text>
<text x="945.3" y="729.3" font-size="24.3" text-anchor="middle" fill="#141414">813</text>
<text x="549.5" y="773.7" font-size="27.5" text-anchor="middle" fill="#141414" textLength="72.0" lengthAdjust="spacingAndGlyphs">λ(nm)</text>
<text x="551.3" y="820.1" font-size="29" text-anchor="middle" fill="#141414" textLength="36.0" lengthAdjust="spacingAndGlyphs">(a)</text>
<text x="359.6" y="85.7" font-size="27.8" text-anchor="start" fill="#0b0b5e" textLength="170.0" lengthAdjust="spacingAndGlyphs">1, 2, 3, 5, 4, 6</text>
<text transform="translate(23.4,419.0) rotate(-90)" font-size="27.7" fill="#141414" textLength="157.0" lengthAdjust="spacingAndGlyphs">Fluorescence</text>
<path d="M1075.2,174.6H1150.7" fill="none" stroke="#5CF531" stroke-width="4.7" stroke-linecap="round" stroke-dasharray="9.3 8.6"/>
<text x="1159.2" y="182.9" font-size="24.5" text-anchor="start" fill="#141414" textLength="118.5" lengthAdjust="spacingAndGlyphs">1-ML-0643</text>
<path d="M1075.2,235.8H1150.7" fill="none" stroke="#FA6A0A" stroke-width="4.7" stroke-linecap="round" stroke-dasharray="9.3 8.6"/>
<text x="1159.2" y="244.1" font-size="24.5" text-anchor="start" fill="#141414" textLength="132.5" lengthAdjust="spacingAndGlyphs">2-MLC-6292</text>
<path d="M1075.2,297.5H1150.7" fill="none" stroke="#0D9B49" stroke-width="4.7" stroke-linecap="round" stroke-dasharray="9.3 8.6"/>
<text x="1159.2" y="305.8" font-size="24.5" text-anchor="start" textLength="163.5" lengthAdjust="spacingAndGlyphs" stroke="#000" stroke-width="0.3" fill="#000">3-MAT-160968</text>
<path d="M1075.2,358.7H1150.7" fill="none" stroke="#F72FC9" stroke-width="4.7" stroke-linecap="round" stroke-dasharray="9.3 8.6"/>
<text x="1159.2" y="367.0" font-size="24.5" text-anchor="start" fill="#141414" textLength="132.5" lengthAdjust="spacingAndGlyphs">4-MLC-2082</text>
<path d="M1075.2,419.8H1150.7" fill="none" stroke="#FA3305" stroke-width="4.7" stroke-linecap="round" stroke-dasharray="9.3 8.6"/>
<text x="1159.2" y="428.1" font-size="24.5" text-anchor="start" fill="#141414" textLength="132.5" lengthAdjust="spacingAndGlyphs">5-MLC-2053</text>
<path d="M1075.2,480.9H1150.7" fill="none" stroke="#FC8EF6" stroke-width="4.7" stroke-linecap="round" stroke-dasharray="9.3 8.6"/>
<text x="1159.2" y="489.2" font-size="24.5" text-anchor="start" fill="#141414" textLength="133.0" lengthAdjust="spacingAndGlyphs">6-MLC-2144</text>
<clipPath id="clipB"><rect x="85.2" y="865.9" width="925.2" height="621.5"/></clipPath>
<rect x="86.4" y="868.3" width="922.8" height="616.7" fill="none" stroke="#000" stroke-width="2.3"/>
<g clip-path="url(#clipB)" fill="none" stroke-width="4.6" stroke-linecap="round" stroke-linejoin="round" stroke-dasharray="9.1 8.47">
<path stroke="#5CF531" d="M87.3,1477.5C89.2,1474.7 91.0,1472.0 92.9,1469.2C94.7,1466.4 96.6,1463.6 98.4,1460.8C100.2,1458.0 102.1,1455.2 103.9,1452.3C105.7,1449.5 107.4,1446.6 109.2,1443.6C110.9,1440.7 112.6,1437.8 114.3,1434.8C116.0,1431.9 117.6,1428.9 119.2,1425.7C120.8,1422.8 122.4,1419.7 123.9,1416.6C125.4,1413.6 126.8,1410.5 128.3,1407.3C129.7,1404.3 131.1,1401.1 132.5,1397.9C133.8,1394.8 135.1,1391.6 136.4,1388.4C137.6,1385.3 138.9,1382.1 140.1,1378.8C141.3,1375.7 142.4,1372.4 143.6,1369.1C144.7,1366.0 145.8,1362.8 147.0,1359.5C148.0,1356.3 149.1,1353.1 150.1,1349.8C151.2,1346.6 152.2,1343.4 153.2,1340.1C154.2,1336.9 155.2,1333.7 156.2,1330.4C157.2,1327.2 158.1,1324.0 159.1,1320.7C160.1,1317.5 161.0,1314.3 162.0,1311.0C162.9,1307.8 163.8,1304.6 164.7,1301.4C165.7,1298.1 166.6,1294.9 167.5,1291.7C168.4,1288.5 169.3,1285.2 170.2,1282.0C171.1,1278.8 172.0,1275.5 172.9,1272.3C173.7,1269.1 174.6,1265.9 175.5,1262.6C176.4,1259.4 177.3,1256.2 178.2,1252.9C179.0,1249.7 179.9,1246.5 180.8,1243.3C181.7,1240.1 182.5,1236.8 183.4,1233.6C184.3,1230.4 185.1,1227.2 186.0,1224.0C186.9,1220.8 187.8,1217.6 188.6,1214.3C189.5,1211.1 190.4,1207.9 191.3,1204.7C192.1,1201.5 193.0,1198.3 193.9,1195.1C194.8,1191.9 195.7,1188.7 196.6,1185.5C197.5,1182.3 198.4,1179.1 199.3,1175.9C200.2,1172.7 201.1,1169.5 202.0,1166.4C202.9,1163.2 203.8,1160.0 204.7,1156.8C205.6,1153.6 206.5,1150.4 207.5,1147.2C208.4,1144.0 209.3,1140.9 210.3,1137.7C211.2,1134.5 212.2,1131.4 213.1,1128.2C214.1,1125.0 215.0,1121.9 216.0,1118.7C217.0,1115.5 218.0,1112.4 218.9,1109.3C219.9,1106.1 220.9,1102.9 221.9,1099.8C222.9,1096.7 224.0,1093.5 225.0,1090.4C226.0,1087.3 227.1,1084.1 228.1,1081.1C229.2,1077.9 230.2,1074.8 231.3,1071.7C232.4,1068.6 233.5,1065.5 234.6,1062.5C235.8,1059.3 236.9,1056.3 238.0,1053.3C239.2,1050.1 240.4,1047.1 241.6,1044.1C242.8,1041.0 244.0,1038.0 245.3,1035.1C246.5,1032.0 247.8,1029.0 249.1,1026.1C250.5,1023.1 251.8,1020.1 253.2,1017.3C254.6,1014.3 256.1,1011.5 257.5,1008.7C259.1,1005.8 260.6,1003.0 262.2,1000.4C263.9,997.5 265.6,994.8 267.3,992.4C269.2,989.6 271.1,987.2 273.0,985.0C275.2,982.4 277.4,980.3 279.6,978.5C282.1,976.4 284.7,974.9 287.3,973.9C290.5,972.8 293.6,972.4 296.7,972.8C300.0,973.2 303.3,974.4 306.6,976.4C309.5,978.2 312.3,980.5 315.2,983.3C317.6,985.6 319.9,988.3 322.3,991.3C324.4,994.0 326.4,996.8 328.5,999.9C330.3,1002.7 332.2,1005.7 334.0,1008.8C335.7,1011.7 337.4,1014.7 339.1,1017.8C340.7,1020.8 342.2,1023.8 343.8,1027.0C345.3,1030.0 346.8,1033.1 348.3,1036.2C349.7,1039.2 351.1,1042.3 352.5,1045.5C353.9,1048.6 355.2,1051.7 356.6,1054.9C357.9,1057.9 359.2,1061.0 360.5,1064.2C361.8,1067.3 363.1,1070.4 364.3,1073.6C365.6,1076.7 366.8,1079.9 368.0,1083.0C369.2,1086.1 370.5,1089.3 371.7,1092.5C372.8,1095.6 374.0,1098.7 375.2,1101.9C376.4,1105.0 377.5,1108.2 378.7,1111.4C379.8,1114.5 381.0,1117.6 382.1,1120.8C383.3,1123.9 384.4,1127.1 385.5,1130.2C386.7,1133.4 387.8,1136.5 388.9,1139.7C390.1,1142.8 391.2,1145.9 392.3,1149.1C393.5,1152.2 394.6,1155.3 395.7,1158.5C396.8,1161.6 398.0,1164.7 399.1,1167.8C400.2,1171.0 401.4,1174.1 402.5,1177.2C403.7,1180.3 404.8,1183.4 406.0,1186.5C407.1,1189.6 408.3,1192.7 409.5,1195.8C410.7,1198.9 411.8,1202.0 413.0,1205.0C414.2,1208.1 415.5,1211.2 416.7,1214.2C417.9,1217.3 419.2,1220.3 420.4,1223.3C421.7,1226.4 423.0,1229.4 424.2,1232.4C425.5,1235.5 426.9,1238.5 428.2,1241.5C429.5,1244.5 430.8,1247.6 432.2,1250.5C433.6,1253.6 434.9,1256.6 436.3,1259.5C437.7,1262.6 439.1,1265.6 440.5,1268.5C441.9,1271.6 443.3,1274.5 444.7,1277.5C446.2,1280.5 447.6,1283.5 449.1,1286.4C450.5,1289.4 452.0,1292.4 453.4,1295.3C454.9,1298.3 456.4,1301.2 457.9,1304.1C459.4,1307.1 461.0,1310.0 462.5,1312.9C464.1,1315.9 465.6,1318.8 467.2,1321.6C468.8,1324.5 470.4,1327.4 472.0,1330.2C473.6,1333.1 475.3,1336.0 476.9,1338.7C478.6,1341.6 480.3,1344.4 482.0,1347.2C483.8,1350.0 485.5,1352.7 487.3,1355.4C489.1,1358.2 490.9,1360.9 492.7,1363.5C494.7,1366.3 496.6,1368.9 498.5,1371.4C500.5,1374.1 502.5,1376.7 504.5,1379.1C506.6,1381.7 508.7,1384.1 510.8,1386.5C513.0,1389.0 515.3,1391.3 517.5,1393.6C519.8,1396.0 522.2,1398.2 524.5,1400.3C527.0,1402.6 529.5,1404.7 531.9,1406.7C534.5,1408.8 537.1,1410.8 539.7,1412.6C542.4,1414.6 545.1,1416.4 547.8,1418.2C550.6,1420.0 553.4,1421.6 556.2,1423.2C559.1,1424.9 562.0,1426.4 564.9,1427.9C567.9,1429.4 570.9,1430.9 573.8,1432.2C576.9,1433.6 579.9,1435.0 582.9,1436.3C586.0,1437.6 589.0,1438.8 592.1,1440.1C595.2,1441.3 598.3,1442.5 601.4,1443.7C604.5,1444.9 607.6,1446.0 610.7,1447.2C613.9,1448.3 617.0,1449.4 620.1,1450.4C623.3,1451.5 626.5,1452.5 629.6,1453.5C632.8,1454.5 636.0,1455.5 639.1,1456.5C642.3,1457.4 645.5,1458.4 648.7,1459.3C651.9,1460.2 655.1,1461.1 658.3,1462.0C661.5,1462.9 664.8,1463.7 668.0,1464.6C671.2,1465.4 674.4,1466.2 677.7,1467.1C680.9,1467.9 684.1,1468.7 687.3,1469.5C690.6,1470.3 693.8,1471.1 697.1,1471.8C700.3,1472.6 703.5,1473.4 706.8,1474.2C710.0,1474.9 713.3,1475.7 716.5,1476.5C719.7,1477.3 723.0,1478.0 726.2,1478.8C729.5,1479.6 732.7,1480.3 736.0,1481.1C739.2,1481.9 742.4,1482.7 745.7,1483.5C747.7,1484.0 749.7,1484.5 751.8,1485.0"/>
<path stroke="#FA6A0A" d="M86.0,1485.0C89.2,1484.2 92.5,1482.8 95.7,1480.8C98.6,1479.0 101.4,1476.7 104.2,1474.0C106.6,1471.7 109.0,1469.1 111.4,1466.1C113.5,1463.5 115.6,1460.7 117.7,1457.7C119.6,1454.9 121.5,1452.0 123.4,1448.9C125.2,1446.1 126.9,1443.1 128.6,1440.0C130.3,1437.0 131.9,1434.0 133.5,1430.9C135.0,1427.9 136.5,1424.8 138.1,1421.7C139.5,1418.6 141.0,1415.6 142.4,1412.4C143.8,1409.3 145.2,1406.2 146.5,1403.0C147.9,1400.0 149.2,1396.8 150.5,1393.6C151.8,1390.6 153.1,1387.4 154.3,1384.2C155.6,1381.1 156.8,1378.0 158.0,1374.8C159.2,1371.7 160.4,1368.5 161.6,1365.3C162.8,1362.2 163.9,1359.0 165.1,1355.8C166.2,1352.6 167.4,1349.5 168.5,1346.3C169.6,1343.1 170.7,1339.9 171.8,1336.7C172.9,1333.6 174.0,1330.4 175.1,1327.2C176.2,1324.0 177.2,1320.8 178.3,1317.6C179.3,1314.4 180.4,1311.2 181.4,1308.0C182.5,1304.8 183.5,1301.6 184.5,1298.4C185.5,1295.2 186.5,1292.0 187.6,1288.8C188.6,1285.6 189.6,1282.4 190.6,1279.2C191.5,1276.0 192.5,1272.8 193.5,1269.6C194.5,1266.4 195.5,1263.2 196.4,1260.0C197.4,1256.8 198.4,1253.6 199.3,1250.3C200.3,1247.1 201.2,1243.9 202.2,1240.7C203.1,1237.5 204.1,1234.3 205.0,1231.1C206.0,1227.9 206.9,1224.6 207.8,1221.4C208.8,1218.2 209.7,1215.0 210.6,1211.8C211.6,1208.6 212.5,1205.4 213.4,1202.2C214.3,1199.0 215.3,1195.8 216.2,1192.6C217.1,1189.4 218.0,1186.2 219.0,1183.0C219.9,1179.8 220.8,1176.6 221.8,1173.4C222.7,1170.2 223.6,1167.0 224.5,1163.8C225.5,1160.6 226.4,1157.4 227.3,1154.2C228.3,1151.0 229.2,1147.9 230.2,1144.7C231.1,1141.5 232.1,1138.3 233.0,1135.2C234.0,1132.0 234.9,1128.8 235.9,1125.6C236.9,1122.5 237.8,1119.3 238.8,1116.1C239.8,1113.0 240.8,1109.8 241.8,1106.7C242.8,1103.5 243.8,1100.4 244.8,1097.3C245.8,1094.1 246.8,1090.9 247.8,1087.9C248.9,1084.7 249.9,1081.6 251.0,1078.5C252.0,1075.3 253.1,1072.2 254.2,1069.2C255.3,1066.0 256.4,1063.0 257.5,1059.9C258.7,1056.8 259.8,1053.7 261.0,1050.7C262.2,1047.6 263.4,1044.6 264.5,1041.6C265.8,1038.5 267.0,1035.5 268.3,1032.6C269.6,1029.6 270.9,1026.6 272.2,1023.7C273.6,1020.7 275.0,1017.8 276.4,1015.0C277.9,1012.0 279.3,1009.2 280.8,1006.5C282.4,1003.6 284.0,1000.8 285.7,998.3C287.4,995.4 289.2,992.8 291.0,990.5C293.0,987.8 295.0,985.5 297.0,983.4C299.3,981.0 301.6,979.0 303.9,977.4C306.7,975.4 309.4,974.0 312.1,973.1C315.3,972.1 318.5,971.7 321.6,972.0C324.9,972.3 328.3,973.3 331.6,974.9C334.6,976.4 337.6,978.4 340.6,980.9C343.1,983.0 345.7,985.5 348.2,988.4C350.4,990.9 352.7,993.6 354.9,996.6C356.9,999.3 358.8,1002.2 360.8,1005.3C362.6,1008.1 364.4,1011.0 366.2,1014.2C367.9,1017.0 369.6,1020.1 371.2,1023.2C372.8,1026.1 374.4,1029.2 375.9,1032.3C377.4,1035.3 378.9,1038.4 380.4,1041.6C381.8,1044.6 383.2,1047.7 384.6,1050.8C386.0,1053.9 387.4,1057.0 388.7,1060.2C390.0,1063.2 391.4,1066.3 392.7,1069.5C394.0,1072.6 395.2,1075.7 396.5,1078.9C397.8,1082.0 399.0,1085.1 400.3,1088.3C401.5,1091.4 402.7,1094.5 403.9,1097.7C405.1,1100.8 406.3,1103.9 407.5,1107.1C408.7,1110.2 409.9,1113.3 411.1,1116.5C412.3,1119.6 413.4,1122.8 414.6,1125.9C415.7,1129.0 416.9,1132.2 418.1,1135.3C419.2,1138.5 420.4,1141.6 421.5,1144.7C422.7,1147.9 423.8,1151.0 425.0,1154.0C426.1,1157.1 427.3,1160.2 428.5,1163.2C429.7,1166.3 430.9,1169.4 432.1,1172.3C433.4,1175.4 434.7,1178.3 435.9,1181.3C437.3,1184.3 438.6,1187.3 439.9,1190.3C441.3,1193.4 442.6,1196.5 444.0,1199.5C445.3,1202.6 446.6,1205.7 448.0,1208.7C449.3,1211.8 450.6,1214.9 451.9,1217.9C453.2,1221.0 454.6,1224.1 455.9,1227.1C457.2,1230.2 458.5,1233.2 459.9,1236.3C461.2,1239.3 462.5,1242.4 463.8,1245.4C465.2,1248.5 466.5,1251.5 467.8,1254.6C469.2,1257.6 470.5,1260.6 471.9,1263.7C473.2,1266.7 474.6,1269.7 475.9,1272.7C477.3,1275.7 478.7,1278.8 480.1,1281.7C481.5,1284.7 482.9,1287.7 484.3,1290.7C485.7,1293.7 487.1,1296.7 488.6,1299.6C490.0,1302.6 491.5,1305.5 493.0,1308.4C494.5,1311.4 496.0,1314.3 497.5,1317.1C499.1,1320.0 500.7,1322.9 502.2,1325.7C503.9,1328.6 505.5,1331.4 507.2,1334.1C508.9,1337.0 510.6,1339.7 512.3,1342.4C514.1,1345.2 515.9,1347.9 517.8,1350.5C519.7,1353.2 521.6,1355.8 523.5,1358.4C525.5,1361.0 527.5,1363.6 529.5,1366.0C531.6,1368.6 533.7,1371.0 535.9,1373.4C538.1,1375.8 540.3,1378.2 542.6,1380.4C544.9,1382.8 547.3,1385.0 549.7,1387.1C552.1,1389.3 554.6,1391.4 557.1,1393.4C559.7,1395.5 562.3,1397.4 564.9,1399.3C567.7,1401.2 570.4,1403.0 573.1,1404.7C575.9,1406.4 578.8,1408.1 581.6,1409.7C584.5,1411.3 587.4,1412.8 590.3,1414.2C593.3,1415.7 596.3,1417.1 599.3,1418.4C602.4,1419.7 605.4,1421.0 608.5,1422.1C611.6,1423.4 614.7,1424.5 617.8,1425.6C620.9,1426.8 624.1,1427.8 627.2,1428.9C630.4,1429.9 633.5,1431.0 636.7,1432.0C639.9,1433.0 643.1,1434.0 646.2,1435.0C649.4,1436.0 652.6,1437.0 655.8,1438.1C658.9,1439.1 662.1,1440.2 665.3,1441.3C668.4,1442.4 671.6,1443.5 674.7,1444.7C677.8,1445.9 680.9,1447.1 684.1,1448.4C687.1,1449.6 690.2,1450.9 693.3,1452.3C696.4,1453.6 699.5,1454.9 702.5,1456.3C705.6,1457.6 708.6,1459.0 711.7,1460.4C714.7,1461.8 717.7,1463.2 720.7,1464.6C723.8,1466.0 726.8,1467.5 729.8,1468.9C732.8,1470.3 735.8,1471.8 738.8,1473.2C741.8,1474.6 744.9,1476.1 747.9,1477.5C750.9,1478.9 753.9,1480.3 756.9,1481.7C759.8,1483.1 762.6,1484.4 765.5,1485.7"/>
<path stroke="#0D9B49" d="M86.0,1463.8C88.3,1461.3 90.6,1459.0 92.9,1456.6C95.2,1454.2 97.6,1451.9 99.9,1449.5C102.3,1447.2 104.6,1444.9 107.0,1442.5C109.4,1440.2 111.7,1437.9 114.1,1435.6C116.5,1433.3 118.9,1431.0 121.3,1428.7C123.7,1426.4 126.1,1424.1 128.5,1421.8C131.0,1419.5 133.4,1417.2 135.8,1415.0C138.2,1412.7 140.6,1410.4 143.1,1408.1C145.5,1405.8 147.9,1403.5 150.4,1401.2C152.8,1399.0 155.2,1396.7 157.6,1394.4C160.1,1392.1 162.5,1389.8 164.9,1387.5C167.3,1385.2 169.7,1382.8 172.1,1380.5C174.5,1378.2 176.9,1375.8 179.3,1373.5C181.7,1371.1 184.0,1368.8 186.4,1366.4C188.8,1364.0 191.1,1361.6 193.4,1359.1C195.7,1356.7 198.0,1354.3 200.3,1351.7C202.6,1349.3 204.8,1346.7 207.1,1344.1C209.2,1341.5 211.4,1338.9 213.5,1336.2C215.6,1333.6 217.7,1330.9 219.8,1328.1C221.8,1325.5 223.8,1322.7 225.7,1319.8C227.6,1317.1 229.5,1314.2 231.4,1311.3C233.2,1308.5 235.1,1305.6 236.9,1302.6C238.6,1299.8 240.3,1296.8 242.0,1293.8C243.7,1290.9 245.4,1288.0 247.0,1284.9C248.6,1282.0 250.2,1279.0 251.8,1276.0C253.4,1273.0 254.9,1270.0 256.5,1267.0C258.0,1264.0 259.5,1261.0 261.0,1257.9C262.4,1254.9 263.9,1251.9 265.4,1248.8C266.8,1245.8 268.3,1242.8 269.7,1239.7C271.1,1236.7 272.6,1233.6 274.0,1230.6C275.4,1227.5 276.8,1224.5 278.2,1221.4C279.5,1218.4 280.9,1215.3 282.3,1212.2C283.6,1209.2 285.0,1206.1 286.4,1203.0C287.7,1200.0 289.1,1196.9 290.4,1193.9C291.8,1190.8 293.1,1187.7 294.4,1184.7C295.8,1181.6 297.1,1178.5 298.4,1175.5C299.7,1172.4 301.1,1169.3 302.4,1166.3C303.7,1163.2 305.0,1160.2 306.4,1157.1C307.7,1154.0 309.0,1151.0 310.3,1147.9C311.6,1144.8 312.9,1141.8 314.3,1138.7C315.6,1135.7 316.9,1132.6 318.2,1129.6C319.5,1126.5 320.9,1123.4 322.2,1120.4C323.5,1117.4 324.9,1114.3 326.2,1111.3C327.5,1108.2 328.9,1105.2 330.2,1102.2C331.6,1099.1 332.9,1096.1 334.3,1093.1C335.7,1090.1 337.0,1087.0 338.4,1084.1C339.8,1081.0 341.2,1078.0 342.6,1075.1C344.0,1072.0 345.4,1069.1 346.8,1066.1C348.3,1063.1 349.7,1060.2 351.1,1057.2C352.6,1054.2 354.1,1051.3 355.6,1048.4C357.1,1045.5 358.6,1042.5 360.1,1039.7C361.7,1036.8 363.3,1033.9 364.8,1031.1C366.5,1028.2 368.1,1025.3 369.7,1022.6C371.4,1019.7 373.1,1017.0 374.8,1014.3C376.6,1011.5 378.4,1008.8 380.2,1006.2C382.1,1003.5 384.0,1000.9 385.9,998.4C388.0,995.8 390.0,993.3 392.0,991.0C394.3,988.5 396.5,986.3 398.7,984.2C401.2,982.0 403.6,980.0 406.1,978.4C408.8,976.5 411.6,975.0 414.4,973.8C417.4,972.5 420.5,971.7 423.6,971.2C426.9,970.7 430.2,970.6 433.5,971.0C436.8,971.4 440.1,972.2 443.4,973.4C446.5,974.5 449.7,976.0 452.8,977.8C455.7,979.5 458.6,981.4 461.5,983.6C464.1,985.7 466.8,987.9 469.4,990.3C471.9,992.6 474.3,995.0 476.8,997.6C479.1,1000.0 481.4,1002.6 483.7,1005.2C485.8,1007.8 488.0,1010.4 490.2,1013.1C492.3,1015.8 494.3,1018.5 496.4,1021.2C498.4,1023.9 500.4,1026.7 502.4,1029.5C504.3,1032.2 506.2,1035.0 508.1,1037.8C510.0,1040.6 511.9,1043.4 513.8,1046.2C515.6,1049.0 517.4,1051.8 519.3,1054.7C521.1,1057.5 522.9,1060.3 524.7,1063.2C526.4,1066.0 528.2,1068.8 530.0,1071.7C531.8,1074.5 533.5,1077.4 535.3,1080.2C537.0,1083.1 538.8,1085.9 540.5,1088.8C542.3,1091.6 544.0,1094.5 545.7,1097.3C547.5,1100.2 549.2,1103.0 551.0,1105.8C552.7,1108.7 554.4,1111.5 556.2,1114.3C557.9,1117.2 559.7,1120.0 561.5,1122.8C563.2,1125.6 565.0,1128.4 566.8,1131.2C568.6,1134.0 570.4,1136.8 572.2,1139.5C574.0,1142.3 575.8,1145.0 577.6,1147.8C579.5,1150.5 581.3,1153.3 583.2,1156.0C585.1,1158.7 587.0,1161.5 588.8,1164.2C590.7,1166.9 592.7,1169.6 594.6,1172.3C596.5,1175.0 598.4,1177.7 600.4,1180.3C602.3,1183.0 604.3,1185.7 606.3,1188.3C608.2,1191.0 610.2,1193.7 612.2,1196.3C614.2,1199.0 616.2,1201.6 618.2,1204.2C620.3,1206.9 622.3,1209.5 624.3,1212.1C626.3,1214.8 628.4,1217.4 630.4,1220.0C632.5,1222.6 634.5,1225.2 636.6,1227.9C638.6,1230.5 640.7,1233.1 642.8,1235.7C644.8,1238.3 646.9,1240.9 649.0,1243.5C651.0,1246.1 653.1,1248.7 655.2,1251.3C657.3,1253.9 659.4,1256.5 661.4,1259.1C663.5,1261.8 665.6,1264.4 667.7,1267.0C669.7,1269.6 671.8,1272.2 673.9,1274.8C675.9,1277.4 678.0,1280.0 680.1,1282.7C682.2,1285.3 684.2,1287.9 686.3,1290.5C688.4,1293.1 690.4,1295.7 692.5,1298.3C694.6,1300.9 696.7,1303.5 698.7,1306.1C700.8,1308.7 702.9,1311.3 705.0,1313.9C707.1,1316.5 709.1,1319.1 711.2,1321.7C713.3,1324.3 715.4,1326.9 717.5,1329.5C719.6,1332.1 721.7,1334.7 723.8,1337.2C725.9,1339.8 728.0,1342.4 730.1,1345.0C732.2,1347.5 734.3,1350.1 736.5,1352.6C738.6,1355.2 740.7,1357.8 742.8,1360.3C745.0,1362.8 747.1,1365.4 749.3,1367.9C751.4,1370.4 753.6,1373.0 755.7,1375.5C757.9,1378.0 760.1,1380.5 762.3,1383.0C764.5,1385.5 766.7,1388.0 768.9,1390.5C771.1,1393.0 773.3,1395.4 775.5,1397.9C777.7,1400.3 780.0,1402.8 782.2,1405.2C784.5,1407.7 786.7,1410.1 789.0,1412.5C791.3,1414.9 793.6,1417.3 795.9,1419.7C798.2,1422.1 800.5,1424.4 802.8,1426.7C805.2,1429.1 807.5,1431.4 809.9,1433.7C812.3,1436.1 814.6,1438.4 817.0,1440.6C819.5,1442.9 821.9,1445.1 824.3,1447.3C826.8,1449.6 829.2,1451.8 831.7,1453.9C834.2,1456.1 836.7,1458.3 839.2,1460.4C841.8,1462.5 844.3,1464.6 846.9,1466.6C849.5,1468.7 852.1,1470.7 854.7,1472.7C857.4,1474.7 860.1,1476.6 862.7,1478.5C864.1,1479.4 865.4,1480.3 866.8,1481.3"/>
<path stroke="#F72FC9" d="M86.0,1462.5C88.3,1460.1 90.5,1457.7 92.8,1455.3C95.1,1452.9 97.4,1450.6 99.7,1448.3C102.1,1445.9 104.4,1443.6 106.8,1441.2C109.2,1438.9 111.6,1436.6 113.9,1434.3C116.3,1431.9 118.7,1429.6 121.1,1427.2C123.4,1424.9 125.8,1422.5 128.2,1420.1C130.5,1417.7 132.9,1415.3 135.2,1412.9C137.5,1410.5 139.8,1408.0 142.1,1405.5C144.3,1403.0 146.6,1400.5 148.8,1397.9C151.0,1395.3 153.2,1392.7 155.3,1390.0C157.4,1387.4 159.5,1384.8 161.6,1382.0C163.6,1379.3 165.6,1376.6 167.6,1373.8C169.6,1371.1 171.5,1368.2 173.4,1365.3C175.3,1362.6 177.1,1359.7 179.0,1356.7C180.7,1353.9 182.5,1351.0 184.3,1348.0C185.9,1345.1 187.6,1342.1 189.3,1339.1C190.9,1336.2 192.5,1333.2 194.1,1330.1C195.7,1327.1 197.2,1324.1 198.8,1321.0C200.2,1318.0 201.7,1314.9 203.2,1311.7C204.6,1308.7 206.0,1305.6 207.4,1302.5C208.8,1299.4 210.1,1296.3 211.5,1293.2C212.8,1290.1 214.1,1287.0 215.4,1283.8C216.7,1280.7 218.0,1277.6 219.3,1274.5C220.5,1271.4 221.8,1268.2 223.0,1265.1C224.3,1262.0 225.5,1258.8 226.7,1255.7C227.9,1252.6 229.1,1249.4 230.3,1246.3C231.5,1243.2 232.7,1240.0 233.9,1236.8C235.0,1233.7 236.2,1230.6 237.4,1227.4C238.5,1224.3 239.7,1221.2 240.9,1218.0C242.0,1214.9 243.2,1211.7 244.3,1208.6C245.4,1205.4 246.6,1202.3 247.7,1199.2C248.9,1196.0 250.0,1192.9 251.1,1189.7C252.3,1186.6 253.4,1183.5 254.5,1180.3C255.7,1177.2 256.8,1174.0 257.9,1170.9C259.0,1167.8 260.2,1164.6 261.3,1161.5C262.4,1158.4 263.6,1155.2 264.7,1152.1C265.8,1149.0 267.0,1145.8 268.1,1142.7C269.2,1139.6 270.4,1136.5 271.5,1133.4C272.7,1130.2 273.8,1127.1 275.0,1124.0C276.1,1120.9 277.3,1117.8 278.4,1114.7C279.6,1111.6 280.8,1108.5 281.9,1105.4C283.1,1102.3 284.3,1099.2 285.5,1096.1C286.7,1093.0 287.9,1089.9 289.1,1086.9C290.3,1083.8 291.6,1080.7 292.8,1077.7C294.0,1074.6 295.3,1071.6 296.5,1068.6C297.8,1065.5 299.1,1062.4 300.4,1059.5C301.7,1056.4 303.0,1053.4 304.3,1050.4C305.7,1047.4 307.0,1044.4 308.4,1041.5C309.8,1038.5 311.2,1035.5 312.6,1032.6C314.0,1029.6 315.5,1026.7 317.0,1023.9C318.5,1021.0 320.0,1018.1 321.6,1015.4C323.2,1012.5 324.8,1009.7 326.5,1007.0C328.2,1004.2 330.0,1001.5 331.7,999.0C333.6,996.2 335.5,993.7 337.4,991.4C339.5,988.8 341.6,986.4 343.7,984.4C346.1,982.0 348.5,980.0 350.8,978.4C353.6,976.4 356.3,974.9 359.0,973.8C362.1,972.6 365.2,971.9 368.3,971.7C371.6,971.5 374.9,971.9 378.3,972.8C381.5,973.7 384.7,975.2 387.9,977.2C390.7,979.0 393.5,981.1 396.4,983.7C398.8,986.0 401.3,988.5 403.7,991.4C405.9,993.9 408.1,996.7 410.3,999.7C412.2,1002.4 414.2,1005.2 416.1,1008.3C417.9,1011.1 419.7,1014.1 421.5,1017.2C423.2,1020.1 424.9,1023.1 426.5,1026.2C428.1,1029.1 429.7,1032.1 431.3,1035.2C432.8,1038.2 434.3,1041.2 435.9,1044.2C437.3,1047.2 438.8,1050.2 440.3,1053.3C441.8,1056.2 443.3,1059.3 444.7,1062.3C446.2,1065.3 447.7,1068.2 449.1,1071.2C450.6,1074.2 452.1,1077.2 453.6,1080.2C455.0,1083.1 456.5,1086.1 458.0,1089.1C459.5,1092.1 461.0,1095.0 462.5,1098.0C464.0,1101.0 465.5,1103.9 467.0,1106.9C468.5,1109.8 470.0,1112.8 471.5,1115.7C473.1,1118.7 474.6,1121.6 476.1,1124.6C477.6,1127.5 479.2,1130.5 480.7,1133.4C482.3,1136.4 483.8,1139.3 485.4,1142.2C486.9,1145.1 488.5,1148.1 490.1,1151.0C491.7,1153.9 493.2,1156.8 494.8,1159.7C496.4,1162.7 498.0,1165.6 499.6,1168.4C501.2,1171.4 502.8,1174.3 504.4,1177.1C506.1,1180.0 507.7,1182.9 509.3,1185.8C511.0,1188.7 512.6,1191.5 514.3,1194.4C516.0,1197.3 517.6,1200.1 519.3,1203.0C521.0,1205.8 522.7,1208.7 524.4,1211.5C526.1,1214.4 527.8,1217.2 529.6,1220.0C531.3,1222.8 533.0,1225.6 534.8,1228.4C536.6,1231.2 538.3,1234.0 540.1,1236.8C541.9,1239.6 543.7,1242.4 545.5,1245.1C547.4,1247.9 549.2,1250.6 551.0,1253.3C552.9,1256.1 554.8,1258.8 556.6,1261.5C558.5,1264.2 560.4,1266.9 562.4,1269.6C564.3,1272.3 566.2,1274.9 568.2,1277.5C570.2,1280.2 572.2,1282.8 574.2,1285.4C576.2,1288.0 578.2,1290.6 580.3,1293.2C582.4,1295.8 584.5,1298.3 586.6,1300.8C588.7,1303.3 590.9,1305.8 593.0,1308.2C595.2,1310.7 597.4,1313.2 599.6,1315.5C601.9,1318.0 604.2,1320.3 606.5,1322.6C608.8,1325.0 611.2,1327.3 613.5,1329.6C615.9,1331.9 618.3,1334.2 620.7,1336.4C623.1,1338.7 625.5,1340.9 628.0,1343.1C630.5,1345.4 632.9,1347.6 635.4,1349.8C637.9,1352.0 640.4,1354.2 642.9,1356.4C645.4,1358.5 647.9,1360.7 650.4,1362.9C652.9,1365.1 655.4,1367.3 657.9,1369.6C660.4,1371.8 662.9,1374.0 665.4,1376.3C667.9,1378.5 670.4,1380.8 672.8,1383.1C675.3,1385.4 677.7,1387.7 680.1,1390.1C682.5,1392.4 684.9,1394.8 687.3,1397.2C689.6,1399.6 692.0,1402.0 694.3,1404.4C696.6,1406.8 698.9,1409.3 701.2,1411.7C703.5,1414.2 705.7,1416.6 708.0,1419.1C710.3,1421.5 712.6,1424.0 714.8,1426.4C717.1,1428.9 719.4,1431.3 721.6,1433.7C723.9,1436.1 726.2,1438.6 728.5,1440.9C730.8,1443.3 733.1,1445.7 735.4,1448.1C737.7,1450.4 740.1,1452.8 742.4,1455.0C744.8,1457.4 747.2,1459.6 749.6,1461.8C752.0,1464.1 754.5,1466.2 757.0,1468.3C759.5,1470.5 762.0,1472.5 764.6,1474.5C767.2,1476.5 769.9,1478.4 772.5,1480.2C775.3,1482.0 778.1,1483.7 780.8,1485.3C781.1,1485.4 781.4,1485.6 781.8,1485.7"/>
<path stroke="#FA3305" d="M86.0,1473.7C89.2,1472.9 92.4,1472.0 95.6,1471.0C98.8,1470.0 102.0,1469.0 105.2,1468.0C108.4,1467.0 111.6,1465.9 114.7,1464.8C117.9,1463.7 121.0,1462.5 124.2,1461.3C127.3,1460.2 130.4,1459.0 133.5,1457.7C136.6,1456.5 139.7,1455.2 142.8,1453.9C145.9,1452.6 149.0,1451.3 152.0,1449.9C155.1,1448.6 158.1,1447.2 161.2,1445.8C164.2,1444.4 167.2,1443.0 170.3,1441.5C173.3,1440.0 176.3,1438.6 179.3,1437.1C182.2,1435.6 185.2,1434.1 188.2,1432.5C191.2,1431.0 194.1,1429.4 197.1,1427.8C200.0,1426.3 203.0,1424.7 205.9,1423.1C208.8,1421.5 211.8,1419.8 214.7,1418.2C217.6,1416.6 220.5,1414.9 223.4,1413.2C226.3,1411.6 229.2,1409.9 232.0,1408.2C234.9,1406.5 237.8,1404.8 240.7,1403.0C243.5,1401.3 246.4,1399.6 249.2,1397.8C252.1,1396.1 254.9,1394.3 257.7,1392.5C260.6,1390.8 263.4,1389.0 266.2,1387.2C269.0,1385.4 271.9,1383.6 274.7,1381.8C277.5,1380.0 280.3,1378.2 283.1,1376.4C285.9,1374.5 288.7,1372.7 291.5,1370.9C294.2,1369.0 297.0,1367.2 299.8,1365.3C302.6,1363.5 305.4,1361.6 308.1,1359.8C310.9,1357.9 313.7,1356.0 316.4,1354.2C319.2,1352.3 322.0,1350.4 324.7,1348.5C327.5,1346.6 330.2,1344.7 332.9,1342.7C335.7,1340.8 338.4,1338.8 341.1,1336.8C343.7,1334.8 346.4,1332.8 349.1,1330.7C351.7,1328.6 354.3,1326.5 357.0,1324.3C359.5,1322.2 362.1,1320.0 364.6,1317.7C367.1,1315.5 369.6,1313.2 372.1,1310.8C374.5,1308.5 377.0,1306.2 379.4,1303.7C381.7,1301.3 384.0,1298.9 386.4,1296.3C388.6,1293.9 390.9,1291.3 393.1,1288.7C395.3,1286.2 397.5,1283.6 399.7,1280.9C401.7,1278.3 403.8,1275.6 405.9,1272.8C407.9,1270.2 409.9,1267.4 411.9,1264.6C413.9,1261.9 415.8,1259.1 417.7,1256.2C419.6,1253.4 421.4,1250.6 423.3,1247.7C425.1,1244.8 426.9,1242.0 428.7,1239.0C430.4,1236.1 432.1,1233.2 433.8,1230.2C435.5,1227.3 437.1,1224.4 438.8,1221.4C440.4,1218.4 442.0,1215.5 443.6,1212.5C445.2,1209.5 446.8,1206.5 448.3,1203.5C449.9,1200.5 451.4,1197.6 452.9,1194.5C454.4,1191.6 456.0,1188.6 457.5,1185.5C458.9,1182.5 460.4,1179.5 461.9,1176.5C463.4,1173.5 464.8,1170.5 466.3,1167.5C467.8,1164.5 469.2,1161.4 470.7,1158.4C472.1,1155.4 473.5,1152.4 475.0,1149.3C476.4,1146.3 477.8,1143.3 479.3,1140.3C480.7,1137.3 482.1,1134.3 483.6,1131.2C485.0,1128.2 486.4,1125.2 487.8,1122.2C489.2,1119.2 490.7,1116.2 492.1,1113.1C493.5,1110.1 494.9,1107.1 496.3,1104.1C497.8,1101.1 499.2,1098.1 500.6,1095.1C502.1,1092.1 503.5,1089.1 504.9,1086.1C506.4,1083.1 507.8,1080.1 509.3,1077.2C510.7,1074.2 512.2,1071.2 513.7,1068.3C515.1,1065.3 516.6,1062.3 518.1,1059.4C519.6,1056.4 521.1,1053.5 522.6,1050.6C524.2,1047.6 525.7,1044.7 527.2,1041.8C528.8,1038.9 530.4,1036.0 531.9,1033.2C533.6,1030.3 535.2,1027.4 536.8,1024.6C538.5,1021.7 540.2,1018.9 541.8,1016.2C543.6,1013.4 545.3,1010.6 547.1,1008.0C548.9,1005.2 550.8,1002.5 552.6,1000.0C554.6,997.3 556.5,994.7 558.5,992.3C560.6,989.7 562.7,987.3 564.8,985.1C567.1,982.7 569.4,980.5 571.7,978.6C574.2,976.4 576.8,974.6 579.3,973.1C582.2,971.5 585.1,970.2 588.0,969.5C591.2,968.7 594.4,968.5 597.6,968.8C601.0,969.2 604.3,970.1 607.6,971.6C610.6,973.0 613.7,974.8 616.7,977.0C619.4,979.0 622.1,981.3 624.8,983.8C627.2,986.1 629.6,988.7 632.0,991.4C634.2,993.9 636.4,996.6 638.6,999.4C640.7,1002.0 642.7,1004.8 644.8,1007.7C646.7,1010.4 648.6,1013.2 650.6,1016.1C652.4,1018.9 654.3,1021.8 656.1,1024.7C657.9,1027.5 659.6,1030.4 661.4,1033.4C663.1,1036.2 664.8,1039.2 666.5,1042.1C668.2,1045.0 669.9,1047.9 671.5,1050.9C673.2,1053.8 674.8,1056.8 676.4,1059.7C678.0,1062.7 679.6,1065.6 681.2,1068.6C682.8,1071.5 684.4,1074.5 686.0,1077.5C687.5,1080.4 689.1,1083.4 690.7,1086.3C692.2,1089.3 693.8,1092.3 695.3,1095.2C696.9,1098.2 698.4,1101.2 699.9,1104.1C701.5,1107.1 703.0,1110.1 704.5,1113.0C706.0,1116.0 707.6,1119.0 709.1,1122.0C710.6,1124.9 712.1,1127.9 713.7,1130.9C715.2,1133.8 716.7,1136.8 718.2,1139.7C719.8,1142.7 721.3,1145.7 722.8,1148.6C724.3,1151.6 725.9,1154.5 727.4,1157.5C728.9,1160.4 730.5,1163.4 732.0,1166.3C733.6,1169.3 735.1,1172.2 736.6,1175.1C738.2,1178.1 739.8,1181.0 741.3,1183.9C742.9,1186.8 744.5,1189.7 746.1,1192.6C747.7,1195.6 749.3,1198.5 750.9,1201.3C752.5,1204.2 754.1,1207.1 755.7,1210.0C757.4,1212.9 759.0,1215.7 760.7,1218.5C762.4,1221.4 764.0,1224.3 765.7,1227.0C767.5,1229.9 769.2,1232.7 770.9,1235.5C772.7,1238.3 774.4,1241.1 776.2,1243.8C778.0,1246.6 779.8,1249.3 781.7,1252.0C783.5,1254.7 785.4,1257.4 787.3,1260.0C789.2,1262.7 791.2,1265.4 793.1,1268.0C795.1,1270.7 797.1,1273.3 799.1,1275.8C801.1,1278.5 803.2,1281.0 805.2,1283.5C807.4,1286.1 809.5,1288.6 811.6,1291.1C813.7,1293.7 815.9,1296.2 818.0,1298.6C820.2,1301.1 822.5,1303.5 824.7,1306.0C826.9,1308.4 829.2,1310.8 831.4,1313.2C833.7,1315.6 836.0,1318.0 838.3,1320.4C840.6,1322.8 842.9,1325.1 845.3,1327.5C847.6,1329.8 850.0,1332.2 852.3,1334.5C854.7,1336.8 857.0,1339.2 859.4,1341.5C861.8,1343.8 864.2,1346.1 866.6,1348.5C868.9,1350.8 871.3,1353.1 873.7,1355.5C876.1,1357.8 878.5,1360.1 880.9,1362.5C883.2,1364.8 885.6,1367.2 888.0,1369.5C890.3,1371.9 892.7,1374.2 895.1,1376.6C897.4,1378.9 899.8,1381.3 902.2,1383.7C904.5,1386.0 906.9,1388.4 909.2,1390.7C911.6,1393.1 913.9,1395.5 916.3,1397.8C918.7,1400.2 921.0,1402.5 923.4,1404.9C925.7,1407.2 928.1,1409.6 930.4,1411.9C932.8,1414.3 935.2,1416.6 937.5,1418.9C939.9,1421.3 942.3,1423.6 944.7,1425.9C947.0,1428.3 949.4,1430.6 951.8,1432.9C954.2,1435.2 956.6,1437.5 959.0,1439.8C961.4,1442.1 963.8,1444.4 966.2,1446.7C968.6,1449.0 971.1,1451.2 973.5,1453.5C975.9,1455.8 978.4,1458.0 980.8,1460.2C983.3,1462.5 985.7,1464.7 988.2,1466.9C990.7,1469.1 993.2,1471.3 995.7,1473.5C998.2,1475.7 1000.7,1477.8 1003.2,1480.0C1005.2,1481.7 1007.2,1483.3 1009.2,1485.0"/>
<path stroke="#FC8EF6" d="M86.0,1477.5C89.1,1476.3 92.2,1475.0 95.3,1473.8C98.4,1472.6 101.5,1471.4 104.6,1470.2C107.7,1469.0 110.8,1467.8 113.9,1466.6C117.0,1465.4 120.1,1464.2 123.2,1463.0C126.4,1461.9 129.5,1460.7 132.6,1459.5C135.7,1458.3 138.8,1457.1 141.9,1455.9C145.1,1454.8 148.2,1453.6 151.3,1452.4C154.4,1451.2 157.5,1450.0 160.6,1448.8C163.7,1447.6 166.8,1446.4 170.0,1445.1C173.1,1443.9 176.2,1442.7 179.3,1441.4C182.3,1440.2 185.4,1438.9 188.5,1437.6C191.6,1436.3 194.7,1435.0 197.8,1433.7C200.8,1432.4 203.9,1431.0 206.9,1429.7C210.0,1428.3 213.0,1426.9 216.1,1425.5C219.1,1424.1 222.1,1422.7 225.2,1421.3C228.2,1419.8 231.2,1418.3 234.2,1416.8C237.1,1415.3 240.1,1413.8 243.1,1412.3C246.1,1410.7 249.0,1409.1 252.0,1407.5C254.9,1405.9 257.8,1404.3 260.7,1402.6C263.6,1401.0 266.5,1399.3 269.4,1397.5C272.3,1395.8 275.1,1394.1 278.0,1392.3C280.8,1390.5 283.6,1388.7 286.5,1386.8C289.3,1385.0 292.0,1383.1 294.8,1381.2C297.6,1379.3 300.3,1377.4 303.1,1375.4C305.8,1373.5 308.5,1371.5 311.2,1369.4C313.8,1367.4 316.5,1365.4 319.2,1363.3C321.8,1361.2 324.4,1359.1 327.0,1357.0C329.6,1354.9 332.2,1352.7 334.8,1350.5C337.3,1348.3 339.8,1346.1 342.3,1343.8C344.8,1341.6 347.3,1339.3 349.8,1337.0C352.2,1334.8 354.7,1332.4 357.1,1330.1C359.5,1327.8 361.9,1325.4 364.3,1323.0C366.7,1320.6 369.0,1318.2 371.3,1315.8C373.7,1313.3 376.0,1310.9 378.3,1308.4C380.5,1305.9 382.8,1303.5 385.0,1300.9C387.3,1298.4 389.5,1295.9 391.7,1293.3C393.9,1290.8 396.0,1288.2 398.2,1285.6C400.3,1283.0 402.5,1280.4 404.6,1277.8C406.7,1275.2 408.8,1272.5 410.9,1269.9C412.9,1267.2 415.0,1264.6 417.0,1261.9C419.0,1259.2 421.0,1256.5 423.0,1253.8C425.0,1251.1 427.0,1248.3 429.0,1245.6C430.9,1242.8 432.8,1240.1 434.7,1237.3C436.6,1234.5 438.5,1231.8 440.4,1228.9C442.3,1226.2 444.1,1223.4 446.0,1220.5C447.8,1217.7 449.6,1214.9 451.5,1212.0C453.2,1209.2 455.0,1206.4 456.8,1203.5C458.6,1200.6 460.3,1197.8 462.1,1194.8C463.8,1192.0 465.5,1189.1 467.2,1186.2C468.9,1183.3 470.6,1180.4 472.3,1177.4C473.9,1174.5 475.6,1171.6 477.3,1168.6C478.9,1165.7 480.5,1162.8 482.1,1159.8C483.7,1156.9 485.3,1153.9 486.9,1150.9C488.5,1148.0 490.0,1145.0 491.6,1142.0C493.2,1139.0 494.7,1136.1 496.2,1133.0C497.7,1130.1 499.3,1127.1 500.8,1124.1C502.3,1121.1 503.8,1118.1 505.3,1115.1C506.8,1112.1 508.3,1109.1 509.8,1106.2C511.3,1103.2 512.8,1100.2 514.2,1097.2C515.7,1094.2 517.2,1091.3 518.7,1088.3C520.2,1085.3 521.7,1082.4 523.2,1079.4C524.7,1076.4 526.2,1073.5 527.8,1070.6C529.3,1067.6 530.8,1064.7 532.3,1061.8C533.9,1058.8 535.5,1055.9 537.0,1053.1C538.6,1050.1 540.2,1047.2 541.8,1044.4C543.4,1041.5 545.1,1038.7 546.7,1035.9C548.4,1033.0 550.1,1030.2 551.8,1027.5C553.5,1024.6 555.3,1021.9 557.0,1019.3C558.9,1016.5 560.7,1013.8 562.6,1011.3C564.5,1008.6 566.5,1006.0 568.4,1003.6C570.5,1001.0 572.6,998.5 574.7,996.2C576.9,993.8 579.2,991.5 581.4,989.4C583.9,987.1 586.3,985.1 588.8,983.3C591.4,981.3 594.1,979.5 596.8,978.1C599.7,976.4 602.6,975.2 605.5,974.2C608.7,973.2 611.9,972.5 615.0,972.3C618.3,972.0 621.7,972.1 625.0,972.7C628.3,973.3 631.6,974.3 634.8,975.8C637.9,977.1 640.9,978.9 644.0,981.0C646.7,982.9 649.5,985.0 652.2,987.5C654.7,989.7 657.2,992.1 659.7,994.7C662.0,997.1 664.3,999.7 666.6,1002.3C668.8,1004.9 671.0,1007.5 673.1,1010.3C675.2,1012.9 677.3,1015.6 679.4,1018.4C681.3,1021.0 683.3,1023.8 685.3,1026.6C687.3,1029.3 689.2,1032.0 691.1,1034.8C693.0,1037.6 694.9,1040.4 696.8,1043.2C698.7,1045.9 700.6,1048.7 702.4,1051.5C704.3,1054.3 706.1,1057.0 708.0,1059.8C709.8,1062.6 711.7,1065.4 713.5,1068.1C715.4,1070.9 717.2,1073.7 719.1,1076.4C721.0,1079.2 722.8,1082.0 724.7,1084.7C726.5,1087.5 728.4,1090.2 730.3,1093.0C732.1,1095.7 734.0,1098.5 735.9,1101.2C737.8,1104.0 739.6,1106.7 741.5,1109.5C743.4,1112.2 745.3,1115.0 747.2,1117.7C749.0,1120.5 750.9,1123.2 752.8,1125.9C754.7,1128.7 756.6,1131.4 758.5,1134.1C760.4,1136.9 762.3,1139.6 764.2,1142.3C766.1,1145.1 768.0,1147.8 769.9,1150.5C771.8,1153.2 773.8,1156.0 775.7,1158.7C777.6,1161.4 779.5,1164.1 781.4,1166.8C783.4,1169.5 785.3,1172.3 787.2,1175.0C789.2,1177.7 791.1,1180.4 793.0,1183.1C795.0,1185.8 796.9,1188.5 798.9,1191.2C800.8,1193.9 802.8,1196.6 804.7,1199.2C806.7,1201.9 808.7,1204.6 810.6,1207.3C812.6,1210.0 814.6,1212.7 816.5,1215.3C818.5,1218.0 820.5,1220.7 822.5,1223.4C824.5,1226.0 826.4,1228.7 828.4,1231.4C830.4,1234.0 832.4,1236.7 834.4,1239.3C836.4,1242.0 838.4,1244.6 840.4,1247.3C842.5,1249.9 844.5,1252.6 846.5,1255.2C848.5,1257.8 850.6,1260.5 852.6,1263.1C854.6,1265.7 856.7,1268.4 858.7,1271.0C860.8,1273.6 862.8,1276.2 864.9,1278.8C866.9,1281.4 869.0,1284.1 871.0,1286.7C873.1,1289.3 875.2,1291.9 877.3,1294.4C879.4,1297.0 881.4,1299.6 883.5,1302.2C885.6,1304.8 887.7,1307.4 889.8,1309.9C891.9,1312.5 894.0,1315.1 896.2,1317.6C898.3,1320.2 900.4,1322.8 902.5,1325.3C904.7,1327.9 906.8,1330.4 908.9,1332.9C911.1,1335.5 913.2,1338.0 915.4,1340.5C917.6,1343.0 919.7,1345.6 921.9,1348.1C924.1,1350.6 926.3,1353.1 928.4,1355.6C930.6,1358.1 932.8,1360.6 935.0,1363.0C937.3,1365.5 939.5,1368.0 941.7,1370.5C943.9,1373.0 946.1,1375.4 948.4,1377.9C950.6,1380.3 952.9,1382.8 955.1,1385.2C957.4,1387.6 959.7,1390.1 961.9,1392.5C964.2,1394.9 966.5,1397.3 968.8,1399.7C971.1,1402.1 973.4,1404.5 975.7,1406.9C978.0,1409.3 980.3,1411.6 982.6,1414.0C985.0,1416.3 987.3,1418.7 989.7,1421.0C992.0,1423.4 994.4,1425.7 996.8,1428.0C999.2,1430.3 1001.5,1432.6 1003.9,1434.9C1005.7,1436.6 1007.5,1438.3 1009.2,1440.0"/>
</g>
<text x="61.6" y="875.8" font-size="23.2" text-anchor="end" fill="#141414">1.2</text>
<text x="62.2" y="1492.9" font-size="23.2" text-anchor="end" fill="#141414">0</text>
<text x="85.9" y="1527.0" font-size="23.2" text-anchor="middle" fill="#141414">723</text>
<text x="243.7" y="1527.0" font-size="23.2" text-anchor="middle" fill="#141414">743</text>
<text x="401.6" y="1527.0" font-size="23.2" text-anchor="middle" fill="#141414">763</text>
<text x="559.5" y="1527.0" font-size="23.2" text-anchor="middle" fill="#141414">783</text>
<text x="717.3" y="1527.0" font-size="23.2" text-anchor="middle" fill="#141414">803</text>
<text x="875.2" y="1527.0" font-size="23.2" text-anchor="middle" fill="#141414">823</text>
<text x="547.2" y="1569.8" font-size="25.5" text-anchor="middle" fill="#141414" textLength="69.5" lengthAdjust="spacingAndGlyphs">λ(nm)</text>
<text x="548.3" y="1619.0" font-size="28.5" text-anchor="middle" fill="#141414" textLength="37.0" lengthAdjust="spacingAndGlyphs">(b)</text>
<text x="358.4" y="931.3" font-size="27.4" text-anchor="start" fill="#0b0b5e" textLength="167.3" lengthAdjust="spacingAndGlyphs">1, 2, 4, 3, 5, 6</text>
<text transform="translate(34.8,1258.5) rotate(-90)" font-size="26.7" fill="#141414" textLength="153.0" lengthAdjust="spacingAndGlyphs">Fluorescence</text>
<path d="M1047.9,1029.7H1121.8" fill="none" stroke="#5CF531" stroke-width="4.6" stroke-linecap="round" stroke-dasharray="9.1 8.47"/>
<text x="1130.5" y="1036.8" font-size="22.6" text-anchor="start" fill="#141414" textLength="115.8" lengthAdjust="spacingAndGlyphs">1-ML-0643</text>
<path d="M1047.9,1085.0H1121.8" fill="none" stroke="#FA6A0A" stroke-width="4.6" stroke-linecap="round" stroke-dasharray="9.1 8.47"/>
<text x="1130.5" y="1092.1" font-size="22.6" text-anchor="start" fill="#141414" textLength="130.0" lengthAdjust="spacingAndGlyphs">2-MLC-6292</text>
<path d="M1047.9,1140.4H1121.8" fill="none" stroke="#0D9B49" stroke-width="4.6" stroke-linecap="round" stroke-dasharray="9.1 8.47"/>
<text x="1130.5" y="1147.5" font-size="22.6" text-anchor="start" fill="#141414" textLength="159.5" lengthAdjust="spacingAndGlyphs">3-MAT-160968</text>
<path d="M1047.9,1195.9H1121.8" fill="none" stroke="#F72FC9" stroke-width="4.6" stroke-linecap="round" stroke-dasharray="9.1 8.47"/>
<text x="1130.5" y="1203.0" font-size="22.6" text-anchor="start" fill="#141414" textLength="130.0" lengthAdjust="spacingAndGlyphs">4-MLC-2082</text>
<path d="M1047.9,1251.3H1121.8" fill="none" stroke="#FA3305" stroke-width="4.6" stroke-linecap="round" stroke-dasharray="9.1 8.47"/>
<text x="1130.5" y="1258.4" font-size="22.6" text-anchor="start" fill="#141414" textLength="130.0" lengthAdjust="spacingAndGlyphs">5-MLC-2053</text>
<path d="M1047.9,1306.8H1121.8" fill="none" stroke="#FC8EF6" stroke-width="4.6" stroke-linecap="round" stroke-dasharray="9.1 8.47"/>
<text x="1130.5" y="1313.9" font-size="22.6" text-anchor="start" fill="#141414" textLength="130.3" lengthAdjust="spacingAndGlyphs">6-MLC-2144</text>
<clipPath id="clipC"><rect x="78.0" y="1675.6" width="915.2" height="662.6"/></clipPath>
<rect x="79.2" y="1678.0" width="912.8" height="657.8" fill="none" stroke="#000" stroke-width="2.3"/>
<g clip-path="url(#clipC)" fill="none" stroke-width="4.6" stroke-linecap="round" stroke-linejoin="round" stroke-dasharray="9.1 8.47">
<path stroke="#5CF531" d="M98.8,2335.8C101.1,2333.4 103.4,2331.0 105.8,2328.7C108.1,2326.3 110.5,2323.9 112.8,2321.5C115.2,2319.1 117.5,2316.7 119.8,2314.1C122.0,2311.7 124.3,2309.1 126.5,2306.5C128.7,2303.9 130.8,2301.2 133.0,2298.4C135.0,2295.8 137.0,2293.0 139.1,2290.1C141.0,2287.4 142.8,2284.5 144.7,2281.4C146.5,2278.6 148.3,2275.7 150.1,2272.6C151.7,2269.7 153.4,2266.6 155.0,2263.5C156.5,2260.5 158.1,2257.4 159.6,2254.2C161.0,2251.2 162.5,2248.0 163.9,2244.8C165.3,2241.7 166.6,2238.6 167.9,2235.4C169.2,2232.3 170.5,2229.2 171.8,2226.0C173.1,2222.9 174.3,2219.8 175.6,2216.7C176.8,2213.6 178.1,2210.5 179.3,2207.5C180.6,2204.4 181.9,2201.4 183.1,2198.3C184.4,2195.3 185.7,2192.2 187.0,2189.1C188.3,2186.1 189.6,2183.0 190.9,2179.8C192.1,2176.7 193.4,2173.6 194.7,2170.4C195.9,2167.3 197.1,2164.2 198.3,2160.9C199.5,2157.8 200.7,2154.7 201.9,2151.5C203.1,2148.3 204.2,2145.2 205.4,2141.9C206.5,2138.8 207.6,2135.6 208.8,2132.4C209.9,2129.3 211.0,2126.1 212.1,2122.9C213.2,2119.8 214.3,2116.6 215.4,2113.4C216.4,2110.2 217.5,2107.1 218.6,2103.9C219.6,2100.7 220.7,2097.5 221.8,2094.3C222.8,2091.2 223.9,2088.0 224.9,2084.8C226.0,2081.6 227.0,2078.5 228.1,2075.3C229.1,2072.1 230.2,2068.9 231.2,2065.8C232.2,2062.6 233.3,2059.4 234.3,2056.3C235.3,2053.1 236.4,2049.9 237.4,2046.8C238.5,2043.6 239.5,2040.4 240.5,2037.3C241.6,2034.1 242.6,2030.9 243.7,2027.8C244.7,2024.6 245.8,2021.5 246.8,2018.3C247.9,2015.2 248.9,2012.0 250.0,2008.9C251.0,2005.7 252.1,2002.6 253.2,1999.5C254.2,1996.3 255.3,1993.2 256.4,1990.1C257.5,1986.9 258.6,1983.8 259.7,1980.7C260.8,1977.6 261.9,1974.5 263.0,1971.4C264.1,1968.2 265.3,1965.1 266.4,1962.0C267.5,1958.9 268.7,1955.8 269.8,1952.7C271.0,1949.6 272.1,1946.5 273.3,1943.5C274.5,1940.4 275.7,1937.3 276.9,1934.2C278.1,1931.1 279.3,1928.1 280.5,1925.0C281.7,1921.9 283.0,1918.9 284.2,1915.9C285.5,1912.8 286.7,1909.7 288.0,1906.7C289.3,1903.7 290.6,1900.7 291.9,1897.7C293.2,1894.6 294.6,1891.6 295.9,1888.7C297.3,1885.6 298.6,1882.6 300.0,1879.7C301.4,1876.7 302.8,1873.8 304.3,1870.9C305.7,1867.9 307.2,1864.9 308.7,1862.1C310.2,1859.1 311.7,1856.2 313.2,1853.4C314.8,1850.5 316.4,1847.6 318.0,1844.9C319.6,1842.0 321.3,1839.2 323.0,1836.5C324.7,1833.7 326.5,1831.0 328.2,1828.3C330.1,1825.6 331.9,1822.9 333.8,1820.4C335.8,1817.8 337.8,1815.2 339.8,1812.9C341.9,1810.3 344.0,1807.9 346.2,1805.7C348.5,1803.4 350.8,1801.2 353.2,1799.3C355.7,1797.2 358.3,1795.3 360.9,1793.7C363.7,1792.0 366.6,1790.6 369.4,1789.5C372.5,1788.3 375.7,1787.5 378.8,1787.1C382.1,1786.7 385.4,1786.7 388.7,1787.1C392.0,1787.5 395.3,1788.3 398.6,1789.5C401.7,1790.7 404.9,1792.2 408.0,1794.1C410.8,1795.8 413.7,1797.8 416.6,1800.1C419.2,1802.2 421.8,1804.5 424.4,1807.1C426.7,1809.4 429.1,1811.9 431.5,1814.6C433.7,1817.1 435.9,1819.8 438.1,1822.6C440.1,1825.3 442.2,1828.0 444.2,1831.0C446.1,1833.7 448.1,1836.5 450.0,1839.5C451.8,1842.3 453.6,1845.2 455.4,1848.2C457.2,1851.0 458.9,1854.0 460.6,1857.0C462.2,1859.9 463.9,1862.9 465.5,1865.9C467.1,1868.8 468.7,1871.8 470.3,1874.9C471.9,1877.8 473.4,1880.8 474.9,1883.8C476.5,1886.8 478.0,1889.8 479.5,1892.8C481.0,1895.8 482.5,1898.8 484.0,1901.8C485.5,1904.8 487.0,1907.8 488.5,1910.7C490.0,1913.7 491.5,1916.7 492.9,1919.6C494.5,1922.6 496.0,1925.6 497.5,1928.5C499.0,1931.5 500.5,1934.4 502.0,1937.3C503.6,1940.2 505.1,1943.1 506.7,1946.0C508.3,1948.9 509.9,1951.7 511.5,1954.5C513.2,1957.4 514.8,1960.3 516.5,1963.0C518.2,1965.9 519.9,1968.7 521.6,1971.5C523.4,1974.3 525.1,1977.1 526.9,1979.8C528.7,1982.6 530.5,1985.4 532.2,1988.2C534.1,1991.0 535.9,1993.7 537.7,1996.5C539.6,1999.3 541.4,2002.0 543.2,2004.8C545.1,2007.6 546.9,2010.3 548.8,2013.1C550.6,2015.9 552.5,2018.7 554.3,2021.5C556.1,2024.3 557.9,2027.1 559.8,2030.0C561.6,2032.8 563.4,2035.6 565.2,2038.4C566.9,2041.3 568.7,2044.1 570.5,2046.9C572.3,2049.7 574.1,2052.6 575.8,2055.4C577.6,2058.2 579.4,2061.0 581.2,2063.8C583.0,2066.6 584.8,2069.4 586.6,2072.1C588.4,2074.9 590.2,2077.7 592.0,2080.4C593.9,2083.1 595.8,2085.9 597.6,2088.5C599.5,2091.3 601.4,2093.9 603.4,2096.5C605.3,2099.2 607.3,2101.8 609.3,2104.3C611.3,2106.9 613.4,2109.5 615.5,2111.9C617.6,2114.5 619.8,2116.9 621.9,2119.3C624.1,2121.8 626.3,2124.2 628.6,2126.5C630.9,2128.9 633.2,2131.2 635.5,2133.5C637.9,2135.8 640.3,2138.0 642.7,2140.2C645.1,2142.5 647.6,2144.6 650.1,2146.7C652.6,2148.9 655.2,2151.0 657.7,2153.0C660.3,2155.1 662.9,2157.1 665.5,2159.1C668.2,2161.1 670.8,2163.0 673.5,2164.9C676.2,2166.9 678.9,2168.8 681.6,2170.6C684.4,2172.5 687.1,2174.3 689.9,2176.1C692.7,2178.0 695.5,2179.8 698.2,2181.5C701.1,2183.3 703.9,2185.1 706.7,2186.8C709.5,2188.6 712.4,2190.3 715.2,2192.1C718.0,2193.8 720.9,2195.6 723.7,2197.3C726.5,2199.0 729.4,2200.8 732.2,2202.6C735.0,2204.3 737.9,2206.1 740.7,2207.9C743.5,2209.7 746.3,2211.6 749.1,2213.4C751.9,2215.3 754.7,2217.1 757.5,2219.1C760.2,2220.9 762.9,2222.9 765.7,2224.9C768.4,2226.8 771.1,2228.8 773.8,2230.9C776.4,2232.9 779.1,2235.0 781.7,2237.0C784.4,2239.1 787.0,2241.2 789.6,2243.3C792.2,2245.4 794.8,2247.5 797.4,2249.6C800.0,2251.7 802.6,2253.9 805.1,2256.0C807.7,2258.2 810.3,2260.3 812.8,2262.5C815.4,2264.6 817.9,2266.8 820.5,2268.9C823.0,2271.1 825.6,2273.2 828.1,2275.4C830.7,2277.5 833.2,2279.7 835.8,2281.8C838.3,2283.9 840.9,2286.1 843.4,2288.2C846.0,2290.3 848.5,2292.4 851.1,2294.5C853.7,2296.6 856.3,2298.7 858.9,2300.8C861.5,2302.9 864.1,2304.9 866.7,2306.9C869.3,2309.0 871.9,2311.0 874.6,2312.9C877.2,2314.9 879.9,2316.9 882.6,2318.8C885.3,2320.7 888.0,2322.6 890.7,2324.5C893.5,2326.3 896.2,2328.2 899.0,2329.9C901.8,2331.7 904.6,2333.4 907.4,2335.1C908.1,2335.5 908.8,2335.9 909.5,2336.2"/>
<path stroke="#FA6A0A" d="M95.0,2335.7C97.7,2333.9 100.5,2332.0 103.2,2330.1C106.0,2328.2 108.7,2326.3 111.5,2324.4C114.2,2322.5 117.0,2320.6 119.7,2318.6C122.4,2316.6 125.1,2314.6 127.8,2312.5C130.4,2310.4 133.0,2308.3 135.6,2306.0C138.2,2303.8 140.7,2301.6 143.2,2299.2C145.6,2296.9 148.0,2294.5 150.5,2291.9C152.7,2289.5 155.0,2287.0 157.3,2284.3C159.5,2281.7 161.7,2279.1 163.8,2276.3C165.9,2273.7 167.9,2270.9 170.0,2268.0C171.9,2265.3 173.8,2262.4 175.7,2259.5C177.5,2256.7 179.3,2253.7 181.1,2250.7C182.9,2247.8 184.6,2244.9 186.3,2241.8C187.9,2238.8 189.5,2235.8 191.1,2232.7C192.6,2229.7 194.1,2226.6 195.6,2223.5C197.1,2220.5 198.5,2217.4 200.0,2214.2C201.3,2211.1 202.7,2208.0 204.1,2204.8C205.4,2201.7 206.7,2198.6 208.0,2195.3C209.2,2192.3 210.5,2189.1 211.7,2185.9C212.9,2182.8 214.2,2179.6 215.4,2176.4C216.5,2173.2 217.7,2170.1 218.8,2166.8C220.0,2163.7 221.1,2160.5 222.2,2157.3C223.4,2154.2 224.5,2151.0 225.6,2147.8C226.7,2144.6 227.7,2141.4 228.8,2138.2C229.9,2135.1 231.0,2131.9 232.0,2128.7C233.1,2125.5 234.1,2122.3 235.2,2119.1C236.2,2115.9 237.2,2112.7 238.3,2109.5C239.3,2106.4 240.3,2103.2 241.4,2100.0C242.4,2096.8 243.4,2093.6 244.4,2090.4C245.4,2087.3 246.5,2084.1 247.5,2080.9C248.5,2077.7 249.5,2074.5 250.5,2071.3C251.5,2068.2 252.5,2065.0 253.5,2061.8C254.5,2058.6 255.5,2055.4 256.5,2052.3C257.5,2049.1 258.6,2045.9 259.6,2042.8C260.6,2039.6 261.6,2036.4 262.6,2033.3C263.6,2030.1 264.6,2026.9 265.6,2023.8C266.7,2020.6 267.7,2017.4 268.7,2014.3C269.7,2011.1 270.8,2008.0 271.8,2004.8C272.9,2001.7 273.9,1998.5 274.9,1995.4C276.0,1992.2 277.1,1989.1 278.1,1986.0C279.2,1982.8 280.2,1979.7 281.3,1976.6C282.4,1973.4 283.5,1970.3 284.6,1967.2C285.6,1964.0 286.7,1960.9 287.8,1957.8C289.0,1954.7 290.1,1951.6 291.2,1948.5C292.3,1945.3 293.4,1942.2 294.6,1939.2C295.7,1936.0 296.9,1932.9 298.0,1929.9C299.2,1926.7 300.4,1923.7 301.5,1920.6C302.7,1917.5 303.9,1914.4 305.1,1911.4C306.3,1908.3 307.6,1905.2 308.8,1902.2C310.0,1899.1 311.3,1896.1 312.6,1893.1C313.8,1890.0 315.1,1887.0 316.4,1884.0C317.7,1881.0 319.1,1878.0 320.4,1875.0C321.8,1872.0 323.1,1869.0 324.5,1866.1C325.9,1863.1 327.3,1860.1 328.8,1857.3C330.2,1854.3 331.7,1851.4 333.2,1848.5C334.7,1845.6 336.3,1842.7 337.8,1840.0C339.4,1837.0 341.1,1834.2 342.7,1831.5C344.4,1828.7 346.1,1825.9 347.8,1823.3C349.7,1820.6 351.5,1817.9 353.3,1815.4C355.3,1812.7 357.3,1810.2 359.3,1807.9C361.4,1805.4 363.6,1803.1 365.8,1801.0C368.2,1798.7 370.6,1796.6 373.0,1794.9C375.6,1792.9 378.3,1791.3 381.0,1790.0C384.0,1788.6 387.1,1787.6 390.1,1787.0C393.3,1786.4 396.6,1786.2 399.9,1786.5C403.2,1786.8 406.5,1787.6 409.8,1788.9C412.9,1790.1 416.1,1791.7 419.2,1793.7C422.0,1795.5 424.8,1797.6 427.6,1800.1C430.1,1802.3 432.6,1804.7 435.1,1807.5C437.4,1809.9 439.6,1812.6 441.9,1815.5C443.9,1818.1 446.0,1820.9 448.0,1824.0C449.9,1826.7 451.8,1829.6 453.6,1832.7C455.4,1835.6 457.1,1838.6 458.8,1841.7C460.4,1844.6 462.0,1847.7 463.6,1850.8C465.2,1853.7 466.7,1856.8 468.2,1859.9C469.7,1862.8 471.2,1865.9 472.7,1868.9C474.1,1871.9 475.6,1874.9 477.1,1878.0C478.5,1881.0 480.0,1884.0 481.4,1887.0C482.8,1890.0 484.3,1893.0 485.7,1896.0C487.2,1899.0 488.6,1902.0 490.0,1905.0C491.5,1908.0 492.9,1911.1 494.4,1914.1C495.8,1917.1 497.2,1920.1 498.7,1923.1C500.1,1926.1 501.5,1929.1 503.0,1932.1C504.4,1935.1 505.8,1938.1 507.3,1941.1C508.7,1944.1 510.2,1947.1 511.6,1950.1C513.0,1953.2 514.5,1956.2 515.9,1959.1C517.4,1962.1 518.8,1965.1 520.3,1968.1C521.7,1971.1 523.2,1974.1 524.6,1977.1C526.1,1980.1 527.5,1983.1 529.0,1986.1C530.5,1989.1 531.9,1992.1 533.4,1995.0C534.9,1998.0 536.3,2001.0 537.8,2004.0C539.3,2006.9 540.8,2009.9 542.3,2012.9C543.8,2015.8 545.3,2018.8 546.7,2021.8C548.3,2024.7 549.8,2027.7 551.3,2030.6C552.8,2033.6 554.3,2036.5 555.9,2039.5C557.4,2042.4 558.9,2045.3 560.5,2048.3C562.0,2051.2 563.6,2054.1 565.2,2057.0C566.7,2059.9 568.3,2062.9 569.9,2065.7C571.5,2068.7 573.1,2071.6 574.7,2074.4C576.3,2077.3 578.0,2080.2 579.6,2083.0C581.3,2085.9 582.9,2088.8 584.6,2091.6C586.3,2094.5 588.0,2097.3 589.6,2100.1C591.4,2103.0 593.1,2105.8 594.8,2108.5C596.6,2111.4 598.3,2114.2 600.1,2116.9C601.9,2119.7 603.7,2122.5 605.5,2125.2C607.3,2128.0 609.2,2130.7 611.0,2133.4C612.9,2136.2 614.8,2138.9 616.6,2141.5C618.6,2144.3 620.5,2146.9 622.4,2149.6C624.4,2152.2 626.4,2154.9 628.3,2157.5C630.3,2160.1 632.4,2162.7 634.4,2165.3C636.5,2167.9 638.5,2170.4 640.6,2172.9C642.7,2175.5 644.8,2178.0 647.0,2180.5C649.2,2183.0 651.3,2185.4 653.5,2187.8C655.8,2190.3 658.0,2192.7 660.3,2195.0C662.6,2197.4 664.9,2199.8 667.2,2202.0C669.6,2204.4 672.0,2206.6 674.3,2208.8C676.8,2211.1 679.2,2213.3 681.7,2215.4C684.2,2217.5 686.8,2219.6 689.3,2221.6C691.9,2223.7 694.5,2225.7 697.1,2227.6C699.8,2229.6 702.5,2231.5 705.2,2233.3C707.9,2235.1 710.7,2236.9 713.5,2238.6C716.3,2240.3 719.2,2242.0 722.0,2243.6C724.9,2245.2 727.8,2246.7 730.8,2248.2C733.7,2249.6 736.7,2251.1 739.7,2252.4C742.7,2253.8 745.8,2255.1 748.8,2256.3C751.9,2257.5 755.0,2258.7 758.1,2259.8C761.2,2260.9 764.4,2262.0 767.5,2263.0C770.7,2264.0 773.9,2265.0 777.0,2265.9C780.2,2266.9 783.4,2267.7 786.6,2268.6C789.9,2269.4 793.1,2270.2 796.3,2271.0C799.6,2271.8 802.8,2272.5 806.0,2273.3C809.3,2274.0 812.5,2274.7 815.8,2275.4C819.0,2276.1 822.3,2276.8 825.6,2277.5C828.8,2278.2 832.1,2278.8 835.4,2279.5C838.6,2280.2 841.9,2280.9 845.1,2281.6C848.4,2282.3 851.7,2283.0 854.9,2283.8C858.2,2284.5 861.4,2285.3 864.7,2286.0C867.9,2286.8 871.2,2287.6 874.4,2288.4C877.6,2289.2 880.9,2290.0 884.1,2290.9C887.3,2291.7 890.5,2292.6 893.8,2293.5C897.0,2294.5 900.2,2295.4 903.4,2296.4C906.6,2297.4 909.8,2298.4 912.9,2299.4C916.1,2300.5 919.3,2301.6 922.4,2302.7C925.6,2303.8 928.7,2305.0 931.9,2306.2C935.0,2307.4 938.1,2308.7 941.2,2310.0C944.3,2311.2 947.3,2312.6 950.4,2314.0C953.4,2315.3 956.5,2316.7 959.5,2318.2C962.5,2319.7 965.5,2321.2 968.5,2322.8C971.5,2324.3 974.4,2325.9 977.4,2327.6C980.3,2329.2 983.2,2330.9 986.1,2332.6C988.1,2333.8 990.0,2335.0 992.0,2336.3"/>
<path stroke="#0D9B49" d="M88.8,2335.7C91.7,2334.1 94.6,2332.2 97.5,2330.1C100.1,2328.1 102.8,2325.9 105.5,2323.5C108.0,2321.3 110.5,2318.9 113.0,2316.3C115.3,2313.9 117.6,2311.4 119.9,2308.7C122.1,2306.1 124.3,2303.5 126.4,2300.7C128.5,2298.0 130.5,2295.3 132.5,2292.4C134.5,2289.7 136.4,2286.8 138.3,2283.9C140.1,2281.1 142.0,2278.2 143.8,2275.3C145.5,2272.4 147.3,2269.5 149.0,2266.5C150.7,2263.6 152.4,2260.6 154.0,2257.6C155.6,2254.7 157.2,2251.7 158.8,2248.6C160.4,2245.6 161.9,2242.6 163.5,2239.5C165.0,2236.5 166.4,2233.5 167.9,2230.4C169.4,2227.4 170.8,2224.3 172.3,2221.2C173.6,2218.2 175.0,2215.1 176.4,2211.9C177.8,2208.9 179.2,2205.8 180.5,2202.7C181.8,2199.6 183.1,2196.5 184.5,2193.3C185.7,2190.2 187.0,2187.1 188.3,2184.0C189.6,2180.9 190.8,2177.7 192.1,2174.6C193.3,2171.5 194.5,2168.3 195.7,2165.1C196.9,2162.0 198.1,2158.9 199.3,2155.7C200.5,2152.6 201.7,2149.4 202.8,2146.2C204.0,2143.1 205.1,2139.9 206.3,2136.8C207.4,2133.6 208.5,2130.5 209.7,2127.3C210.8,2124.1 211.9,2121.0 213.0,2117.8C214.1,2114.7 215.2,2111.5 216.3,2108.3C217.4,2105.2 218.5,2102.0 219.6,2098.8C220.7,2095.7 221.8,2092.5 222.9,2089.3C224.0,2086.2 225.0,2083.0 226.1,2079.8C227.2,2076.7 228.3,2073.5 229.3,2070.4C230.4,2067.2 231.5,2064.0 232.5,2060.9C233.6,2057.7 234.7,2054.6 235.7,2051.4C236.8,2048.2 237.9,2045.1 238.9,2041.9C240.0,2038.8 241.1,2035.6 242.2,2032.5C243.2,2029.3 244.3,2026.1 245.4,2023.0C246.4,2019.8 247.5,2016.7 248.6,2013.6C249.7,2010.4 250.7,2007.3 251.8,2004.1C252.9,2001.0 254.0,1997.8 255.1,1994.7C256.2,1991.6 257.2,1988.4 258.3,1985.3C259.4,1982.2 260.5,1979.0 261.6,1975.9C262.8,1972.8 263.9,1969.7 265.0,1966.6C266.1,1963.4 267.2,1960.3 268.4,1957.2C269.5,1954.1 270.7,1951.0 271.8,1947.9C272.9,1944.8 274.1,1941.7 275.3,1938.6C276.4,1935.5 277.6,1932.4 278.8,1929.3C280.0,1926.2 281.2,1923.1 282.4,1920.1C283.6,1917.0 284.8,1913.9 286.1,1910.9C287.3,1907.8 288.5,1904.8 289.8,1901.8C291.1,1898.7 292.4,1895.7 293.6,1892.7C295.0,1889.6 296.3,1886.6 297.6,1883.7C298.9,1880.6 300.3,1877.6 301.7,1874.7C303.1,1871.7 304.5,1868.7 305.9,1865.9C307.3,1862.9 308.8,1859.9 310.3,1857.1C311.8,1854.1 313.3,1851.3 314.8,1848.5C316.4,1845.6 318.0,1842.7 319.6,1840.0C321.3,1837.2 323.0,1834.4 324.7,1831.8C326.5,1828.9 328.3,1826.3 330.1,1823.7C332.0,1821.0 334.0,1818.4 335.9,1816.0C338.0,1813.4 340.0,1811.0 342.1,1808.7C344.4,1806.3 346.6,1804.0 348.9,1802.0C351.4,1799.8 353.9,1797.8 356.4,1796.1C359.1,1794.3 361.9,1792.7 364.6,1791.5C367.7,1790.1 370.7,1789.2 373.7,1788.6C377.0,1788.0 380.3,1787.9 383.6,1788.2C386.9,1788.6 390.2,1789.4 393.5,1790.7C396.6,1791.9 399.7,1793.6 402.8,1795.6C405.6,1797.4 408.4,1799.6 411.2,1802.1C413.7,1804.4 416.1,1806.9 418.6,1809.6C420.9,1812.1 423.1,1814.7 425.3,1817.6C427.4,1820.2 429.4,1823.0 431.5,1825.9C433.4,1828.6 435.3,1831.5 437.3,1834.4C439.1,1837.2 440.9,1840.1 442.7,1843.1C444.5,1845.9 446.2,1848.8 448.0,1851.8C449.6,1854.7 451.3,1857.6 453.0,1860.6C454.6,1863.5 456.3,1866.5 457.9,1869.5C459.5,1872.4 461.1,1875.4 462.7,1878.4C464.2,1881.3 465.8,1884.3 467.4,1887.3C468.9,1890.3 470.4,1893.3 472.0,1896.3C473.5,1899.2 475.0,1902.2 476.5,1905.2C478.0,1908.2 479.5,1911.2 481.0,1914.2C482.5,1917.2 484.0,1920.2 485.5,1923.2C487.0,1926.2 488.5,1929.1 489.9,1932.1C491.4,1935.1 492.9,1938.1 494.4,1941.1C495.9,1944.1 497.3,1947.1 498.8,1950.1C500.3,1953.1 501.8,1956.1 503.2,1959.0C504.7,1962.0 506.2,1965.0 507.7,1968.0C509.2,1971.0 510.6,1973.9 512.1,1976.9C513.6,1979.9 515.1,1982.8 516.6,1985.8C518.1,1988.7 519.6,1991.7 521.2,1994.6C522.7,1997.6 524.2,2000.5 525.7,2003.4C527.3,2006.4 528.8,2009.3 530.4,2012.2C532.0,2015.1 533.5,2018.1 535.1,2020.9C536.7,2023.9 538.3,2026.8 539.9,2029.6C541.5,2032.5 543.2,2035.4 544.8,2038.3C546.4,2041.2 548.1,2044.0 549.7,2046.9C551.4,2049.7 553.1,2052.6 554.8,2055.4C556.5,2058.3 558.2,2061.1 559.9,2063.9C561.6,2066.7 563.3,2069.6 565.1,2072.3C566.8,2075.2 568.6,2077.9 570.4,2080.7C572.2,2083.5 574.0,2086.3 575.8,2089.0C577.6,2091.8 579.4,2094.6 581.3,2097.3C583.1,2100.0 585.0,2102.8 586.9,2105.4C588.8,2108.2 590.7,2110.9 592.6,2113.5C594.5,2116.2 596.4,2118.9 598.4,2121.5C600.4,2124.2 602.3,2126.8 604.3,2129.4C606.4,2132.1 608.4,2134.7 610.4,2137.2C612.5,2139.9 614.5,2142.4 616.6,2144.9C618.7,2147.5 620.8,2150.0 623.0,2152.5C625.1,2155.0 627.3,2157.5 629.5,2159.9C631.7,2162.4 633.9,2164.9 636.1,2167.2C638.4,2169.7 640.7,2172.0 643.0,2174.3C645.3,2176.7 647.7,2179.0 650.0,2181.3C652.4,2183.6 654.8,2185.8 657.2,2188.0C659.7,2190.2 662.2,2192.4 664.6,2194.5C667.2,2196.6 669.7,2198.7 672.3,2200.7C674.9,2202.8 677.5,2204.7 680.1,2206.6C682.8,2208.6 685.5,2210.5 688.2,2212.3C691.0,2214.1 693.8,2215.9 696.6,2217.6C699.4,2219.3 702.2,2221.0 705.1,2222.6C708.0,2224.2 710.9,2225.8 713.8,2227.3C716.8,2228.9 719.7,2230.3 722.7,2231.7C725.7,2233.2 728.7,2234.6 731.7,2235.9C734.7,2237.3 737.8,2238.6 740.8,2239.8C743.9,2241.1 747.0,2242.3 750.1,2243.6C753.2,2244.8 756.3,2246.0 759.4,2247.1C762.5,2248.3 765.6,2249.5 768.7,2250.6C771.9,2251.7 775.0,2252.9 778.1,2254.0C781.3,2255.1 784.4,2256.3 787.5,2257.4C790.7,2258.6 793.8,2259.7 796.9,2260.9C800.0,2262.1 803.2,2263.3 806.3,2264.5C809.4,2265.7 812.5,2266.9 815.6,2268.1C818.7,2269.3 821.8,2270.6 824.9,2271.9C828.0,2273.1 831.1,2274.4 834.1,2275.8C837.2,2277.1 840.3,2278.4 843.3,2279.8C846.4,2281.1 849.4,2282.5 852.5,2283.9C855.5,2285.3 858.5,2286.7 861.6,2288.2C864.6,2289.6 867.6,2291.1 870.6,2292.6C873.5,2294.1 876.5,2295.6 879.5,2297.2C882.5,2298.7 885.4,2300.3 888.4,2301.9C891.3,2303.5 894.2,2305.2 897.1,2306.8C900.0,2308.5 902.9,2310.2 905.8,2311.9C908.7,2313.6 911.5,2315.3 914.4,2317.1C917.2,2318.9 920.1,2320.7 922.9,2322.5C925.7,2324.3 928.5,2326.2 931.3,2328.1C934.0,2329.9 936.8,2331.8 939.5,2333.8"/>
<path stroke="#F72FC9" d="M79.5,2335.8C80.6,2332.6 81.6,2329.5 82.7,2326.4C83.8,2323.2 84.9,2320.1 85.9,2316.9C87.0,2313.8 88.1,2310.6 89.2,2307.5C90.3,2304.3 91.4,2301.2 92.4,2298.0C93.5,2294.9 94.6,2291.7 95.7,2288.6C96.8,2285.4 97.9,2282.3 99.0,2279.1C100.0,2276.0 101.1,2272.8 102.2,2269.6C103.3,2266.5 104.4,2263.3 105.5,2260.2C106.5,2257.0 107.6,2253.9 108.7,2250.7C109.8,2247.5 110.8,2244.4 111.9,2241.2C113.0,2238.0 114.1,2234.9 115.1,2231.7C116.2,2228.5 117.2,2225.4 118.3,2222.2C119.4,2219.0 120.4,2215.8 121.5,2212.6C122.5,2209.5 123.6,2206.3 124.6,2203.1C125.6,2199.9 126.7,2196.7 127.7,2193.6C128.7,2190.4 129.8,2187.2 130.8,2184.1C131.8,2180.9 132.9,2177.7 133.9,2174.6C134.9,2171.4 136.0,2168.3 137.0,2165.1C138.1,2162.0 139.1,2158.8 140.2,2155.7C141.2,2152.6 142.3,2149.5 143.4,2146.4C144.5,2143.2 145.6,2140.1 146.7,2137.1C147.8,2133.9 148.9,2130.9 150.1,2127.9C151.2,2124.7 152.4,2121.7 153.6,2118.7C154.8,2115.5 156.0,2112.5 157.2,2109.4C158.4,2106.3 159.6,2103.2 160.8,2100.1C162.0,2097.0 163.2,2093.8 164.4,2090.6C165.6,2087.5 166.8,2084.3 168.0,2081.1C169.1,2078.0 170.3,2074.8 171.4,2071.6C172.5,2068.5 173.7,2065.3 174.8,2062.1C175.9,2058.9 177.0,2055.7 178.0,2052.5C179.1,2049.3 180.2,2046.1 181.2,2042.9C182.3,2039.7 183.3,2036.5 184.4,2033.3C185.4,2030.1 186.4,2026.9 187.4,2023.7C188.4,2020.5 189.4,2017.3 190.5,2014.2C191.5,2011.0 192.5,2007.8 193.5,2004.8C194.5,2001.6 195.6,1998.5 196.6,1995.5C197.7,1992.3 198.8,1989.3 199.9,1986.3C201.1,1983.2 202.2,1980.2 203.4,1977.3C204.6,1974.2 205.8,1971.2 207.0,1968.2C208.3,1965.2 209.6,1962.2 210.9,1959.3C212.3,1956.3 213.6,1953.3 215.0,1950.4C216.4,1947.4 217.8,1944.5 219.3,1941.6C220.7,1938.6 222.2,1935.6 223.7,1932.7C225.2,1929.8 226.7,1926.8 228.2,1924.0C229.7,1921.0 231.3,1918.1 232.8,1915.2C234.4,1912.3 236.0,1909.4 237.6,1906.6C239.2,1903.7 240.8,1900.8 242.4,1898.0C244.1,1895.1 245.8,1892.3 247.5,1889.5C249.2,1886.7 250.9,1883.9 252.6,1881.1C254.4,1878.3 256.2,1875.6 257.9,1872.9C259.8,1870.1 261.6,1867.4 263.5,1864.7C265.4,1862.0 267.2,1859.3 269.1,1856.7C271.1,1854.0 273.1,1851.4 275.0,1848.9C277.1,1846.3 279.1,1843.7 281.2,1841.2C283.3,1838.7 285.4,1836.2 287.6,1833.8C289.8,1831.3 292.0,1828.9 294.2,1826.7C296.5,1824.3 298.9,1822.0 301.2,1819.8C303.6,1817.5 306.1,1815.4 308.5,1813.3C311.0,1811.2 313.6,1809.2 316.2,1807.3C318.8,1805.3 321.5,1803.5 324.2,1801.8C327.1,1800.1 329.9,1798.5 332.7,1797.0C335.7,1795.5 338.7,1794.2 341.6,1793.0C344.7,1791.8 347.8,1790.8 350.9,1790.0C354.2,1789.2 357.4,1788.6 360.6,1788.2C363.9,1787.7 367.2,1787.5 370.5,1787.6C373.9,1787.6 377.2,1787.8 380.5,1788.3C383.8,1788.8 387.1,1789.5 390.4,1790.5C393.6,1791.4 396.9,1792.5 400.1,1793.8C403.1,1795.1 406.2,1796.6 409.3,1798.2C412.2,1799.8 415.2,1801.6 418.1,1803.5C420.9,1805.4 423.6,1807.4 426.4,1809.6C429.0,1811.6 431.7,1813.8 434.3,1816.1C436.8,1818.4 439.3,1820.7 441.8,1823.2C444.1,1825.5 446.5,1828.0 448.9,1830.5C451.1,1833.0 453.4,1835.6 455.6,1838.2C457.8,1840.7 460.0,1843.4 462.1,1846.1C464.2,1848.7 466.3,1851.4 468.4,1854.1C470.4,1856.8 472.4,1859.5 474.4,1862.3C476.3,1865.0 478.3,1867.8 480.2,1870.6C482.1,1873.4 484.0,1876.2 485.8,1879.1C487.7,1881.9 489.5,1884.7 491.3,1887.6C493.1,1890.4 494.9,1893.3 496.7,1896.2C498.4,1899.0 500.2,1901.9 501.9,1904.8C503.6,1907.7 505.3,1910.6 507.0,1913.6C508.7,1916.5 510.3,1919.4 512.0,1922.3C513.6,1925.2 515.3,1928.2 516.9,1931.2C518.5,1934.1 520.1,1937.0 521.7,1940.0C523.3,1943.0 524.9,1945.9 526.5,1948.9C528.0,1951.9 529.6,1954.8 531.1,1957.8C532.7,1960.8 534.2,1963.8 535.7,1966.8C537.3,1969.7 538.8,1972.7 540.3,1975.7C541.8,1978.6 543.3,1981.6 544.9,1984.6C546.4,1987.5 547.9,1990.5 549.4,1993.4C551.0,1996.4 552.5,1999.3 554.1,2002.2C555.6,2005.2 557.2,2008.1 558.7,2010.9C560.3,2013.9 561.9,2016.8 563.5,2019.6C565.1,2022.5 566.8,2025.4 568.4,2028.2C570.1,2031.0 571.7,2033.8 573.4,2036.6C575.2,2039.4 576.9,2042.2 578.7,2044.8C580.5,2047.6 582.3,2050.4 584.1,2053.0C586.0,2055.8 587.9,2058.5 589.8,2061.1C591.7,2063.8 593.6,2066.5 595.6,2069.2C597.5,2071.9 599.5,2074.5 601.4,2077.2C603.4,2079.9 605.4,2082.6 607.3,2085.3C609.3,2088.0 611.3,2090.7 613.2,2093.5C615.2,2096.2 617.1,2098.9 619.0,2101.7C620.9,2104.4 622.9,2107.2 624.8,2109.9C626.7,2112.7 628.5,2115.5 630.4,2118.2C632.3,2121.0 634.2,2123.8 636.0,2126.5C637.9,2129.3 639.8,2132.1 641.6,2134.9C643.5,2137.6 645.4,2140.4 647.2,2143.2C649.1,2145.9 650.9,2148.7 652.8,2151.5C654.6,2154.2 656.5,2157.0 658.3,2159.8C660.2,2162.5 662.1,2165.3 663.9,2168.0C665.8,2170.8 667.7,2173.5 669.6,2176.2C671.5,2179.0 673.4,2181.7 675.3,2184.4C677.2,2187.1 679.1,2189.8 681.0,2192.5C682.9,2195.2 684.9,2197.9 686.8,2200.5C688.8,2203.2 690.8,2205.9 692.7,2208.5C694.8,2211.1 696.8,2213.7 698.8,2216.3C700.9,2218.9 702.9,2221.5 705.0,2224.0C707.1,2226.5 709.2,2229.1 711.3,2231.6C713.5,2234.1 715.6,2236.6 717.8,2239.1C720.0,2241.7 722.1,2244.2 724.3,2246.8C726.5,2249.3 728.6,2251.9 730.8,2254.5C732.9,2257.1 735.0,2259.7 737.1,2262.4C739.1,2265.1 741.2,2267.8 743.2,2270.6C745.2,2273.3 747.2,2276.1 749.1,2279.0C751.0,2281.7 752.9,2284.6 754.7,2287.6C756.5,2290.4 758.3,2293.3 760.0,2296.3C761.8,2299.1 763.5,2302.0 765.2,2304.9C766.9,2307.8 768.6,2310.6 770.3,2313.3C772.1,2316.2 773.8,2318.9 775.6,2321.5C777.5,2324.2 779.4,2326.8 781.2,2329.1C783.3,2331.7 785.4,2334.0 787.5,2335.9C788.2,2336.5 788.8,2337.0 789.5,2337.5"/>
<path stroke="#FA3305" d="M97.5,2335.7C100.3,2333.9 103.0,2332.0 105.8,2330.1C108.5,2328.3 111.3,2326.4 114.1,2324.5C116.8,2322.6 119.5,2320.6 122.3,2318.6C125.0,2316.7 127.7,2314.7 130.3,2312.6C133.0,2310.5 135.6,2308.4 138.3,2306.3C140.8,2304.2 143.4,2302.0 146.0,2299.7C148.5,2297.5 151.0,2295.2 153.5,2292.8C155.9,2290.5 158.3,2288.1 160.7,2285.6C163.0,2283.2 165.3,2280.7 167.6,2278.1C169.8,2275.6 172.1,2273.0 174.3,2270.3C176.4,2267.7 178.5,2265.1 180.6,2262.3C182.6,2259.6 184.7,2256.9 186.7,2254.0C188.6,2251.3 190.6,2248.5 192.5,2245.6C194.3,2242.8 196.2,2240.0 198.0,2237.0C199.8,2234.2 201.5,2231.3 203.3,2228.2C205.0,2225.4 206.7,2222.4 208.3,2219.4C209.9,2216.4 211.6,2213.4 213.2,2210.4C214.7,2207.4 216.3,2204.4 217.8,2201.3C219.3,2198.3 220.8,2195.2 222.2,2192.1C223.7,2189.1 225.1,2186.0 226.5,2182.9C227.9,2179.8 229.3,2176.8 230.7,2173.6C232.0,2170.6 233.4,2167.5 234.7,2164.3C236.0,2161.3 237.3,2158.2 238.7,2155.0C239.9,2151.9 241.2,2148.8 242.5,2145.7C243.8,2142.6 245.0,2139.5 246.3,2136.3C247.5,2133.3 248.8,2130.1 250.0,2127.0C251.2,2123.9 252.5,2120.8 253.7,2117.6C254.9,2114.5 256.1,2111.4 257.3,2108.2C258.5,2105.1 259.7,2102.0 260.9,2098.8C262.1,2095.7 263.3,2092.6 264.4,2089.4C265.6,2086.3 266.8,2083.2 268.0,2080.1C269.1,2076.9 270.3,2073.8 271.5,2070.7C272.6,2067.5 273.8,2064.4 275.0,2061.3C276.1,2058.1 277.3,2055.0 278.4,2051.9C279.6,2048.7 280.7,2045.6 281.9,2042.5C283.0,2039.4 284.2,2036.2 285.3,2033.1C286.5,2030.0 287.7,2026.9 288.8,2023.7C290.0,2020.6 291.1,2017.5 292.3,2014.4C293.4,2011.2 294.6,2008.1 295.7,2005.0C296.9,2001.9 298.1,1998.8 299.2,1995.7C300.4,1992.5 301.6,1989.4 302.7,1986.3C303.9,1983.2 305.1,1980.1 306.3,1977.0C307.5,1973.9 308.6,1970.8 309.8,1967.7C311.0,1964.6 312.2,1961.5 313.4,1958.4C314.6,1955.3 315.8,1952.2 317.0,1949.2C318.2,1946.1 319.5,1943.0 320.7,1939.9C321.9,1936.8 323.2,1933.8 324.4,1930.7C325.7,1927.6 326.9,1924.6 328.2,1921.5C329.4,1918.5 330.7,1915.4 332.0,1912.4C333.3,1909.3 334.6,1906.3 335.9,1903.3C337.2,1900.3 338.6,1897.2 339.9,1894.3C341.2,1891.2 342.6,1888.2 344.0,1885.3C345.4,1882.3 346.8,1879.3 348.2,1876.4C349.6,1873.4 351.0,1870.4 352.5,1867.5C354.0,1864.5 355.5,1861.6 356.9,1858.8C358.5,1855.8 360.0,1853.0 361.6,1850.2C363.2,1847.2 364.8,1844.4 366.4,1841.7C368.1,1838.8 369.8,1836.1 371.5,1833.4C373.3,1830.6 375.1,1827.9 376.9,1825.4C378.8,1822.6 380.8,1820.1 382.7,1817.7C384.7,1815.0 386.8,1812.6 388.9,1810.4C391.2,1807.9 393.4,1805.7 395.7,1803.7C398.2,1801.5 400.7,1799.5 403.1,1797.8C405.9,1795.9 408.6,1794.3 411.4,1793.0C414.4,1791.5 417.4,1790.4 420.4,1789.7C423.6,1788.8 426.8,1788.4 430.1,1788.3C433.4,1788.2 436.7,1788.6 440.1,1789.2C443.3,1789.9 446.6,1790.9 449.9,1792.3C452.9,1793.6 456.0,1795.1 459.1,1797.0C462.0,1798.7 464.8,1800.7 467.7,1802.9C470.3,1805.0 472.9,1807.2 475.6,1809.6C478.0,1811.9 480.5,1814.3 482.9,1816.9C485.2,1819.3 487.5,1821.9 489.8,1824.5C492.0,1827.1 494.2,1829.7 496.3,1832.4C498.4,1835.0 500.5,1837.8 502.5,1840.5C504.5,1843.2 506.5,1846.0 508.5,1848.8C510.4,1851.5 512.3,1854.3 514.3,1857.1C516.1,1859.9 518.0,1862.7 519.9,1865.6C521.7,1868.4 523.5,1871.2 525.3,1874.1C527.1,1876.9 528.9,1879.8 530.7,1882.7C532.4,1885.5 534.2,1888.4 535.9,1891.2C537.6,1894.1 539.4,1897.0 541.1,1899.9C542.8,1902.7 544.5,1905.6 546.2,1908.5C547.9,1911.4 549.6,1914.3 551.3,1917.2C553.0,1920.0 554.7,1922.9 556.3,1925.8C558.0,1928.7 559.7,1931.6 561.4,1934.5C563.1,1937.3 564.7,1940.2 566.4,1943.1C568.1,1946.0 569.8,1948.8 571.5,1951.7C573.1,1954.6 574.8,1957.4 576.5,1960.3C578.2,1963.2 579.9,1966.0 581.6,1968.8C583.3,1971.7 585.0,1974.5 586.8,1977.4C588.5,1980.2 590.2,1983.0 592.0,1985.8C593.7,1988.6 595.5,1991.4 597.2,1994.2C599.0,1997.0 600.8,1999.8 602.6,2002.5C604.4,2005.3 606.3,2008.0 608.1,2010.8C610.0,2013.5 611.8,2016.2 613.7,2018.9C615.6,2021.7 617.5,2024.3 619.4,2027.0C621.4,2029.7 623.3,2032.4 625.2,2035.0C627.2,2037.7 629.2,2040.3 631.2,2042.9C633.2,2045.6 635.2,2048.2 637.3,2050.7C639.3,2053.3 641.4,2055.9 643.5,2058.4C645.6,2061.0 647.7,2063.5 649.8,2066.0C652.0,2068.5 654.1,2071.0 656.3,2073.5C658.5,2076.0 660.7,2078.4 662.9,2080.8C665.2,2083.3 667.5,2085.7 669.7,2088.0C672.0,2090.4 674.3,2092.8 676.6,2095.1C679.0,2097.4 681.4,2099.7 683.7,2102.0C686.1,2104.3 688.5,2106.5 690.9,2108.7C693.4,2111.0 695.9,2113.2 698.3,2115.3C700.9,2117.5 703.4,2119.6 705.9,2121.7C708.5,2123.8 711.0,2125.9 713.6,2127.9C716.2,2130.0 718.8,2132.0 721.5,2134.0C724.1,2136.0 726.8,2137.9 729.4,2139.8C732.2,2141.8 734.9,2143.7 737.6,2145.5C740.3,2147.4 743.1,2149.3 745.8,2151.1C748.6,2153.0 751.4,2154.8 754.1,2156.6C756.9,2158.4 759.7,2160.2 762.5,2161.9C765.4,2163.7 768.2,2165.5 771.0,2167.2C773.8,2169.0 776.7,2170.7 779.5,2172.5C782.3,2174.2 785.2,2176.0 788.0,2177.7C790.8,2179.4 793.7,2181.2 796.5,2182.9C799.4,2184.7 802.2,2186.5 805.0,2188.2C807.9,2190.0 810.7,2191.8 813.5,2193.6C816.3,2195.4 819.1,2197.3 821.9,2199.1C824.7,2201.0 827.5,2202.8 830.2,2204.7C833.0,2206.6 835.7,2208.6 838.5,2210.5C841.2,2212.5 843.9,2214.4 846.6,2216.5C849.3,2218.5 852.0,2220.5 854.6,2222.6C857.3,2224.6 859.9,2226.7 862.5,2228.9C865.1,2231.0 867.7,2233.1 870.3,2235.2C872.9,2237.3 875.5,2239.4 878.0,2241.5C880.6,2243.6 883.2,2245.6 885.8,2247.7C888.4,2249.7 891.1,2251.7 893.7,2253.7C896.4,2255.7 899.1,2257.6 901.7,2259.4C904.5,2261.3 907.2,2263.2 909.9,2265.0C912.7,2266.8 915.5,2268.7 918.3,2270.5C921.0,2272.4 923.8,2274.2 926.6,2276.2C929.3,2278.1 932.1,2280.0 934.8,2282.1C937.5,2284.1 940.1,2286.2 942.8,2288.4C945.3,2290.6 947.9,2292.8 950.5,2295.2C952.9,2297.4 955.4,2299.7 957.8,2302.1C960.2,2304.4 962.6,2306.8 965.0,2309.2C967.4,2311.6 969.7,2313.9 972.1,2316.3C974.4,2318.7 976.8,2321.1 979.1,2323.5C981.4,2325.9 983.8,2328.2 986.1,2330.5C988.1,2332.5 990.0,2334.4 992.0,2336.3"/>
</g>
<text x="54.4" y="1685.4" font-size="23.0" text-anchor="end" fill="#141414">1.2</text>
<text x="55.0" y="2343.2" font-size="23.0" text-anchor="end" fill="#141414">0</text>
<text x="79.0" y="2377.8" font-size="23.0" text-anchor="middle" fill="#141414">771</text>
<text x="277.3" y="2377.8" font-size="23.0" text-anchor="middle" fill="#141414">791</text>
<text x="475.5" y="2377.8" font-size="23.0" text-anchor="middle" fill="#141414">811</text>
<text x="673.7" y="2377.8" font-size="23.0" text-anchor="middle" fill="#141414">831</text>
<text x="871.9" y="2377.8" font-size="23.0" text-anchor="middle" fill="#141414">851</text>
<text x="574.0" y="2425.2" font-size="25.5" text-anchor="middle" fill="#141414" textLength="70.2" lengthAdjust="spacingAndGlyphs">λ(nm)</text>
<text x="576.4" y="2469.4" font-size="28" text-anchor="middle" fill="#141414" textLength="33.0" lengthAdjust="spacingAndGlyphs">(c)</text>
<text x="337.4" y="1755.2" font-size="27.3" text-anchor="start" fill="#0b0b5e" textLength="137.5" lengthAdjust="spacingAndGlyphs">4, 1, 3, 2, 5</text>
<text transform="translate(30.5,2079.1) rotate(-90)" font-size="26.7" fill="#141414" textLength="152.6" lengthAdjust="spacingAndGlyphs">Fluorescence</text>
<path d="M1050.9,1875.4H1124.8" fill="none" stroke="#5CF531" stroke-width="4.6" stroke-linecap="round" stroke-dasharray="9.1 8.47"/>
<text x="1133.7" y="1882.5" font-size="22.6" text-anchor="start" fill="#141414" textLength="129.8" lengthAdjust="spacingAndGlyphs">1-MLC-6292</text>
<path d="M1050.9,1939.5H1124.8" fill="none" stroke="#FA6A0A" stroke-width="4.6" stroke-linecap="round" stroke-dasharray="9.1 8.47"/>
<text x="1133.7" y="1946.6" font-size="22.6" text-anchor="start" fill="#141414" textLength="159.6" lengthAdjust="spacingAndGlyphs">2-MAT-160968</text>
<path d="M1050.9,2003.6H1124.8" fill="none" stroke="#0D9B49" stroke-width="4.6" stroke-linecap="round" stroke-dasharray="9.1 8.47"/>
<text x="1133.7" y="2010.7" font-size="22.6" text-anchor="start" fill="#141414" textLength="129.8" lengthAdjust="spacingAndGlyphs">3-MLC-2082</text>
<path d="M1050.9,2067.6H1124.8" fill="none" stroke="#F72FC9" stroke-width="4.6" stroke-linecap="round" stroke-dasharray="9.1 8.47"/>
<text x="1133.7" y="2074.7" font-size="22.6" text-anchor="start" fill="#141414" textLength="129.8" lengthAdjust="spacingAndGlyphs">4-MLC-2053</text>
<path d="M1050.9,2131.5H1124.8" fill="none" stroke="#FA3305" stroke-width="4.6" stroke-linecap="round" stroke-dasharray="9.1 8.47"/>
<text x="1133.7" y="2138.6" font-size="22.6" text-anchor="start" fill="#141414" textLength="130.0" lengthAdjust="spacingAndGlyphs">5-MLC-2144</text>
</svg>
</body></html>
